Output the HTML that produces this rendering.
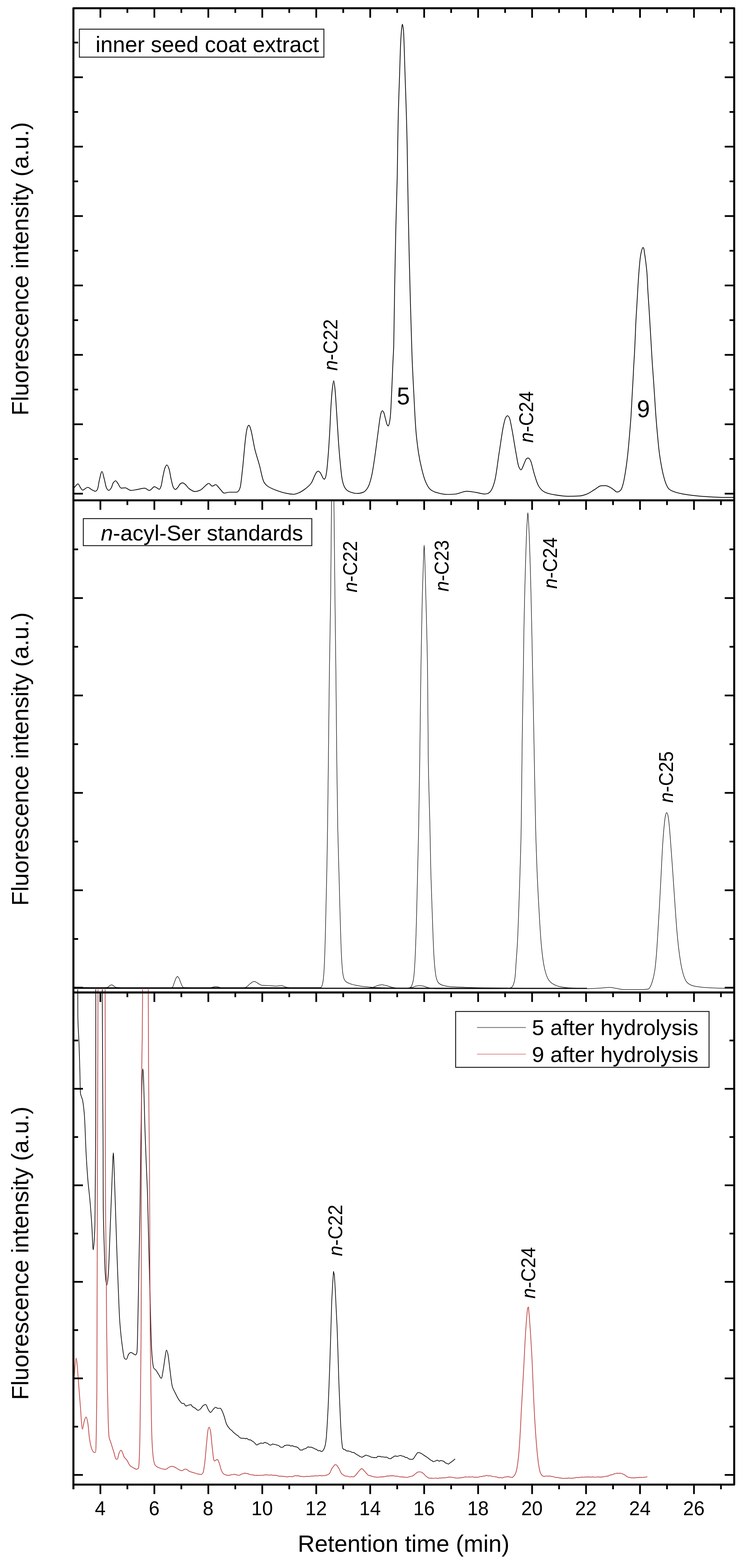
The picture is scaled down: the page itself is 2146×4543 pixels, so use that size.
<!DOCTYPE html>
<html lang="en">
<head>
<meta charset="utf-8">
<title>Fluorescence chromatograms</title>
<style>
html,body{margin:0;padding:0;background:#fff}
body{width:2146px;height:4543px;overflow:hidden}
</style>
</head>
<body>
<svg width="2146" height="4543" viewBox="0 0 2146 4543" font-family='"Liberation Sans", Arial, Helvetica, sans-serif' style="display:block">
<rect width="2146" height="4543" fill="#fff"/>
<defs>
<clipPath id="c1"><rect x="212.6" y="23.8" width="1913.7" height="1425.9"/></clipPath>
<clipPath id="c2"><rect x="212.6" y="1449.7" width="1913.7" height="1425.8"/></clipPath>
<clipPath id="c3"><rect x="212.6" y="2866.5" width="1913.7" height="1434.8"/></clipPath>
</defs>
<path d="M212.6 1414.0C213.1 1413.9 213.9 1413.3 214.8 1412.7C217.1 1411.2 222.7 1401.8 225.6 1401.8C228.1 1401.8 229.7 1408.0 232.0 1411.0C234.3 1414.1 236.3 1420.0 239.4 1420.0C243.1 1420.0 249.6 1412.0 254.2 1412.0C258.4 1412.0 262.1 1417.1 266.0 1419.0C269.5 1420.7 273.6 1423.5 276.3 1423.5C278.6 1423.5 280.6 1420.5 282.0 1418.0C284.7 1413.2 285.7 1398.9 288.0 1390.0C290.1 1381.7 292.9 1366.0 295.3 1366.0C297.6 1366.0 299.8 1380.3 302.0 1388.0C304.4 1396.5 306.1 1410.1 309.0 1415.0C310.6 1417.7 312.9 1420.9 315.0 1420.9C317.2 1420.9 320.1 1416.9 322.0 1414.0C324.4 1410.3 325.6 1402.4 328.0 1399.0C329.8 1396.4 332.7 1393.0 334.8 1393.0C337.0 1393.0 338.8 1397.2 341.0 1400.0C344.1 1403.8 347.2 1414.3 351.2 1414.3C354.4 1414.3 358.6 1413.4 362.7 1413.4C367.8 1413.4 373.4 1420.9 379.1 1420.9C384.9 1420.9 390.9 1419.3 397.2 1418.3C404.0 1417.2 412.4 1414.3 418.6 1414.3C423.9 1414.3 428.1 1420.9 432.7 1420.9C437.6 1420.9 443.0 1410.1 447.2 1410.1C450.1 1410.1 452.6 1412.7 455.0 1414.0C457.2 1415.2 459.6 1417.6 461.3 1417.6C463.2 1417.6 464.7 1413.3 466.0 1410.0C468.4 1403.8 469.9 1389.5 472.0 1380.0C473.9 1371.3 475.6 1360.6 478.0 1355.0C479.5 1351.6 481.5 1347.0 483.3 1347.0C485.2 1347.0 487.4 1352.7 489.0 1357.0C491.8 1364.3 493.6 1380.2 496.0 1390.0C498.0 1398.1 499.5 1407.5 502.0 1412.0C503.6 1414.8 505.9 1418.3 508.0 1418.3C510.2 1418.3 512.8 1414.4 515.0 1412.0C517.5 1409.2 519.4 1403.9 522.0 1402.0C524.0 1400.5 526.4 1398.9 528.7 1398.9C531.1 1398.9 533.4 1401.2 536.0 1403.0C539.7 1405.7 543.4 1412.7 548.0 1416.0C552.7 1419.4 559.2 1424.2 564.8 1424.2C569.9 1424.2 575.5 1422.0 580.0 1420.0C584.5 1418.0 588.4 1413.1 592.0 1410.0C594.9 1407.4 597.5 1404.3 600.0 1402.8C601.8 1401.8 603.1 1400.5 605.0 1400.5C607.8 1400.5 611.4 1408.7 614.8 1408.7C617.9 1408.7 621.8 1404.0 624.6 1404.0C627.0 1404.0 628.8 1407.4 631.0 1409.6C633.8 1412.4 636.9 1416.8 640.0 1420.0C643.0 1423.1 645.6 1428.7 649.3 1428.7C653.6 1428.7 659.9 1426.0 665.7 1426.0C672.1 1426.0 682.2 1426.0 686.1 1426.0C688.3 1426.0 689.6 1423.7 691.0 1422.0C692.7 1419.9 694.1 1417.0 695.3 1413.0C698.0 1404.0 699.6 1382.7 701.9 1363.6C705.1 1336.7 708.7 1286.2 711.7 1265.0C713.2 1254.3 714.1 1245.6 716.0 1240.0C717.1 1236.7 719.1 1232.2 720.6 1232.2C721.8 1232.2 723.0 1234.9 724.0 1237.0C725.6 1240.3 726.6 1245.6 728.2 1251.9C731.0 1263.2 734.2 1285.1 738.0 1301.2C741.7 1316.9 746.9 1331.6 751.2 1347.2C755.7 1363.3 759.1 1387.0 764.3 1396.5C767.1 1401.7 770.0 1404.7 774.2 1408.0C779.6 1412.4 788.7 1416.2 797.2 1419.5C807.0 1423.3 820.4 1427.7 830.0 1429.4C837.3 1430.7 843.7 1432.0 849.8 1432.0C855.2 1432.0 860.0 1429.8 865.0 1428.0C870.3 1426.1 875.2 1422.7 880.5 1419.0C887.1 1414.3 896.3 1407.0 901.1 1400.0C905.6 1393.5 908.4 1383.8 911.4 1378.0C913.5 1374.0 915.0 1370.0 917.0 1368.0C918.4 1366.6 920.0 1365.0 921.6 1365.0C923.3 1365.0 925.5 1367.3 927.0 1369.0C928.9 1371.1 930.5 1375.1 932.0 1378.0C933.4 1380.7 934.6 1384.3 936.0 1386.0C937.0 1387.1 938.1 1388.6 939.1 1388.6C940.1 1388.6 941.2 1386.6 942.0 1385.0C943.4 1382.2 944.3 1377.0 945.3 1371.1C947.2 1359.9 949.0 1337.7 950.4 1319.8C952.0 1300.2 953.2 1280.1 954.5 1258.1C956.0 1232.7 957.1 1200.1 958.6 1176.0C959.8 1156.9 961.1 1137.8 962.7 1124.6C963.7 1116.0 965.2 1103.0 966.4 1103.0C967.6 1103.0 968.8 1115.5 969.9 1124.6C971.8 1141.0 973.3 1171.7 975.0 1196.5C976.8 1223.0 978.4 1253.3 980.2 1278.7C981.8 1300.7 983.4 1320.7 985.3 1340.3C987.1 1358.2 988.7 1378.4 991.5 1391.7C993.4 1400.7 996.1 1409.0 999.7 1414.3C1002.6 1418.6 1007.1 1422.5 1012.0 1424.5C1017.9 1427.0 1027.7 1429.7 1034.6 1429.7C1040.5 1429.7 1046.1 1428.3 1051.0 1426.6C1056.4 1424.8 1061.9 1418.2 1065.4 1412.2C1069.8 1404.7 1072.8 1393.4 1075.7 1381.4C1079.7 1364.7 1083.0 1340.4 1086.0 1319.8C1089.0 1299.3 1091.7 1277.0 1094.2 1258.1C1096.4 1241.9 1098.3 1224.4 1100.3 1213.0C1101.6 1205.8 1102.4 1198.8 1104.0 1195.0C1104.9 1192.8 1106.3 1190.0 1107.5 1190.0C1108.6 1190.0 1110.0 1192.2 1111.0 1194.0C1112.9 1197.4 1114.3 1206.0 1116.0 1212.0C1117.7 1218.0 1119.2 1226.4 1121.0 1230.0C1122.0 1231.9 1123.3 1234.3 1124.2 1234.3C1125.3 1234.3 1126.2 1230.7 1127.0 1228.0C1128.4 1223.2 1129.6 1215.2 1130.5 1206.4C1131.9 1191.9 1132.7 1169.3 1133.8 1147.2C1135.2 1118.7 1136.8 1075.4 1138.0 1048.6C1138.9 1029.8 1139.7 1020.5 1140.3 1000.0C1141.4 961.5 1142.0 885.2 1143.0 828.7C1144.0 773.3 1145.1 718.2 1146.3 664.3C1147.5 612.1 1149.7 554.5 1150.5 510.0C1151.1 475.7 1151.3 449.5 1151.8 418.4C1152.3 386.1 1153.0 352.7 1153.8 319.8C1154.6 286.9 1156.0 254.1 1157.1 221.2C1158.2 188.3 1159.2 147.2 1160.4 122.6C1161.2 107.4 1162.0 94.5 1163.0 85.0C1163.6 79.0 1164.5 70.0 1165.3 70.0C1165.9 70.0 1166.7 75.1 1167.2 78.0C1167.8 81.5 1168.1 84.2 1168.6 89.7C1170.1 108.0 1171.8 180.6 1173.2 221.2C1174.4 256.4 1175.5 286.9 1176.5 319.8C1177.5 352.7 1178.5 386.1 1179.1 418.4C1179.7 449.5 1179.9 475.7 1180.5 510.0C1181.2 554.5 1182.3 612.1 1183.4 664.3C1184.5 718.2 1185.9 775.5 1187.3 828.7C1188.6 878.9 1190.3 934.9 1191.5 975.0C1192.4 1003.4 1192.9 1022.3 1193.9 1048.6C1195.1 1079.0 1197.1 1114.3 1198.8 1147.2C1200.5 1180.1 1202.1 1216.4 1204.4 1245.8C1206.3 1269.9 1209.0 1291.3 1212.0 1311.5C1214.7 1329.1 1218.3 1346.2 1221.9 1360.8C1224.9 1372.9 1227.7 1384.0 1231.7 1393.7C1235.2 1402.2 1239.5 1411.7 1244.9 1416.7C1249.6 1421.1 1256.0 1424.5 1263.0 1426.6C1272.0 1429.3 1285.8 1432.5 1295.8 1432.5C1304.1 1432.5 1310.5 1432.1 1318.8 1431.5C1328.8 1430.8 1341.3 1423.3 1351.7 1423.3C1360.9 1423.3 1369.4 1425.3 1378.0 1426.6C1386.4 1427.9 1396.4 1431.3 1402.6 1431.3C1406.4 1431.3 1409.2 1430.7 1412.0 1430.0C1414.6 1429.4 1416.7 1427.6 1419.0 1425.4C1423.5 1421.0 1428.8 1408.1 1432.2 1395.8C1437.7 1376.2 1440.9 1341.0 1445.3 1313.6C1449.7 1286.2 1454.3 1249.6 1458.5 1231.5C1460.7 1221.9 1462.4 1212.9 1465.0 1209.0C1466.4 1206.9 1468.4 1204.5 1470.0 1204.5C1471.7 1204.5 1473.6 1207.5 1475.0 1210.0C1477.7 1215.0 1479.1 1226.6 1481.5 1238.0C1485.4 1256.6 1490.6 1292.7 1494.6 1313.6C1497.5 1328.8 1499.5 1345.7 1502.8 1353.1C1504.5 1356.8 1506.9 1361.3 1508.8 1361.3C1510.6 1361.3 1512.4 1356.1 1514.0 1353.0C1515.9 1349.2 1517.5 1343.9 1519.3 1339.9C1520.9 1336.4 1522.1 1332.0 1524.0 1330.0C1525.4 1328.5 1527.5 1326.8 1529.1 1326.8C1530.5 1326.8 1531.8 1328.0 1533.0 1329.0C1534.6 1330.4 1535.8 1333.2 1537.3 1336.6C1540.4 1343.6 1543.5 1360.8 1547.2 1372.8C1551.0 1384.9 1554.9 1400.2 1560.4 1409.0C1564.6 1415.8 1570.2 1422.1 1576.8 1425.4C1584.4 1429.2 1595.8 1431.9 1606.4 1433.6C1618.5 1435.6 1633.2 1437.9 1645.8 1437.9C1657.2 1437.9 1669.3 1437.5 1678.7 1436.9C1686.1 1436.4 1691.8 1434.3 1698.4 1432.0C1706.0 1429.4 1714.0 1423.1 1721.4 1418.8C1728.2 1414.8 1735.0 1407.4 1741.1 1407.3C1745.7 1407.2 1749.6 1407.2 1754.2 1407.2C1759.9 1407.2 1767.8 1412.5 1772.3 1415.2C1775.4 1417.1 1777.6 1419.2 1780.0 1421.0C1782.1 1422.6 1784.1 1425.5 1786.0 1425.5C1787.4 1425.5 1788.6 1425.4 1790.2 1425.2C1792.7 1424.9 1796.8 1421.4 1798.8 1418.4C1801.4 1414.6 1803.1 1407.6 1804.8 1401.3C1806.8 1393.7 1808.3 1384.9 1809.9 1375.7C1811.7 1365.2 1813.5 1352.9 1815.0 1341.5C1816.5 1330.1 1817.6 1319.9 1818.9 1307.4C1820.5 1292.1 1822.1 1273.2 1823.5 1256.1C1824.9 1239.0 1826.4 1222.0 1827.5 1204.9C1828.6 1187.8 1829.4 1170.8 1830.3 1153.7C1831.2 1136.6 1832.3 1118.8 1833.2 1102.5C1834.0 1087.7 1834.6 1073.4 1835.3 1060.0C1836.0 1048.1 1836.7 1038.3 1837.4 1026.1C1838.2 1011.8 1838.9 995.0 1839.6 979.5C1840.3 964.0 1840.7 948.4 1841.5 932.9C1842.3 917.4 1843.4 901.8 1844.3 886.3C1845.2 870.8 1846.1 855.3 1847.0 839.8C1847.9 824.3 1848.8 808.7 1850.0 793.2C1851.2 777.7 1852.6 759.0 1854.3 746.6C1855.5 738.1 1856.9 730.2 1858.5 725.0C1859.5 721.7 1860.9 717.1 1862.1 717.1C1863.1 717.1 1864.5 720.1 1865.0 722.0C1865.6 724.4 1865.7 727.6 1866.2 731.0C1866.8 735.5 1867.7 740.2 1868.6 746.6C1870.1 757.7 1872.7 777.6 1873.8 793.2C1874.9 808.7 1875.2 824.3 1876.1 839.8C1877.0 855.3 1878.2 870.8 1879.2 886.3C1880.2 901.8 1881.1 917.4 1882.0 932.9C1882.9 948.4 1883.9 964.0 1884.8 979.5C1885.7 995.0 1886.6 1011.8 1887.5 1026.1C1888.2 1038.3 1888.8 1048.1 1889.6 1060.0C1890.5 1073.4 1891.7 1087.7 1892.7 1102.5C1893.8 1118.8 1895.0 1136.6 1896.1 1153.7C1897.2 1170.8 1898.2 1187.8 1899.5 1204.9C1900.8 1222.0 1902.2 1239.0 1903.8 1256.1C1905.4 1273.2 1907.0 1292.1 1908.9 1307.4C1910.4 1319.9 1912.1 1330.2 1914.0 1341.5C1916.0 1352.9 1918.3 1365.2 1920.9 1375.7C1923.2 1384.9 1925.6 1394.1 1928.6 1401.3C1931.0 1407.1 1933.4 1412.9 1937.1 1416.5C1940.8 1420.2 1946.7 1422.7 1953.1 1425.0C1962.3 1428.3 1975.9 1431.2 1989.2 1433.2C2005.3 1435.6 2025.4 1437.6 2043.5 1438.7C2061.6 1439.8 2082.6 1441.2 2097.7 1441.2C2108.7 1441.2 2118.5 1441.2 2126.6 1441.2" fill="none" stroke="#0a0a0a" stroke-width="2.20" stroke-linejoin="round" stroke-linecap="butt" clip-path="url(#c1)"/>
<path d="M212.6 2860.5C255.3 2861.5 285.5 2861.5 300.0 2861.5C305.3 2861.5 308.8 2861.1 311.7 2860.5C313.9 2860.1 315.1 2857.7 317.0 2856.5C319.0 2855.3 321.3 2853.3 323.3 2853.3C325.3 2853.3 327.0 2855.4 329.0 2856.5C331.1 2857.7 332.5 2860.1 335.6 2860.5C344.6 2861.8 376.4 2862.5 400.0 2862.5C429.1 2862.5 488.8 2862.2 497.8 2861.5C501.5 2861.2 502.9 2851.4 505.0 2846.5C506.9 2842.1 508.2 2836.6 510.0 2833.7C511.2 2831.6 512.6 2828.9 513.9 2828.9C515.2 2828.9 516.7 2831.6 518.0 2833.7C520.1 2836.9 521.7 2843.9 524.0 2848.5C526.2 2852.9 527.7 2860.7 531.5 2861.0C539.6 2861.7 575.1 2861.8 600.0 2862.0C630.1 2862.2 666.7 2862.5 700.0 2862.5C733.3 2862.5 766.7 2862.5 800.0 2862.5C833.3 2862.5 878.9 2862.8 900.0 2862.8C910.3 2862.8 918.9 2862.8 924.0 2862.8C926.6 2862.8 928.7 2861.8 930.1 2860.7C931.9 2859.3 933.2 2854.4 934.2 2850.4C935.5 2844.9 936.3 2838.5 937.1 2830.1C938.5 2815.6 939.5 2792.7 940.4 2769.1C941.7 2735.6 942.7 2687.4 943.7 2646.5C944.7 2605.5 945.7 2564.4 946.5 2523.3C947.3 2482.2 947.9 2446.0 948.6 2400.0C949.5 2340.9 950.3 2267.5 951.1 2196.5C952.0 2118.3 952.8 2030.0 953.9 1950.0C954.9 1874.0 956.7 1805.6 957.6 1727.6C958.6 1640.7 959.3 1504.9 960.1 1452.0C960.5 1429.0 960.8 1410.5 961.2 1400.0" fill="none" stroke="#0a0a0a" stroke-width="1.50" stroke-linejoin="round" stroke-linecap="butt" clip-path="url(#c2)"/>
<path d="M966.2 1400.0C966.5 1410.5 966.8 1429.0 967.1 1452.0C967.9 1504.9 969.0 1640.7 970.0 1727.6C970.9 1805.6 971.9 1874.0 972.8 1950.0C973.7 2030.0 974.4 2118.3 975.3 2196.5C976.2 2267.5 977.0 2340.9 978.2 2400.0C979.1 2446.0 980.4 2482.2 981.5 2523.3C982.6 2564.4 983.6 2605.5 984.8 2646.5C986.0 2687.4 987.4 2740.0 988.9 2769.1C989.8 2785.9 990.6 2798.6 991.7 2809.7C992.5 2817.6 993.2 2824.3 994.6 2830.1C995.7 2834.7 997.5 2839.2 1000.0 2842.3C1002.8 2845.7 1009.0 2848.5 1014.3 2850.4C1020.3 2852.6 1028.0 2854.1 1034.9 2855.4C1041.7 2856.7 1048.2 2857.8 1055.4 2858.6C1063.2 2859.5 1069.9 2860.2 1080.0 2860.7C1097.0 2861.5 1122.6 2862.3 1150.0 2862.5C1190.1 2862.8 1246.5 2863.0 1300.0 2863.0C1361.8 2863.0 1433.3 2863.0 1500.0 2863.0C1566.7 2863.0 1633.3 2863.0 1700.0 2863.0" fill="none" stroke="#0a0a0a" stroke-width="1.50" stroke-linejoin="round" stroke-linecap="butt" clip-path="url(#c2)"/>
<path d="M212.6 2862.0C267.8 2862.0 330.5 2862.0 400.0 2862.0C487.9 2862.0 671.3 2863.5 700.0 2863.5C705.8 2863.5 708.2 2862.0 712.0 2860.5C716.2 2858.8 719.9 2853.3 724.0 2850.5C727.9 2847.8 732.1 2843.5 736.2 2843.5C740.1 2843.5 744.3 2847.6 748.0 2849.5C751.3 2851.2 753.6 2854.1 757.5 2854.5C763.1 2855.1 772.7 2855.1 780.0 2855.5C786.9 2855.9 793.8 2857.0 800.0 2857.0C805.4 2857.0 810.1 2855.5 815.0 2855.5C820.1 2855.5 824.1 2859.6 830.0 2860.5C838.1 2861.8 846.9 2862.7 860.0 2863.0C888.2 2863.6 952.5 2864.0 1000.0 2864.0C1049.1 2864.0 1121.0 2864.0 1150.0 2864.0C1162.7 2864.0 1171.8 2863.8 1178.7 2863.5C1182.9 2863.3 1186.7 2862.1 1189.0 2860.7C1191.4 2859.2 1193.0 2854.5 1194.3 2850.4C1196.1 2845.0 1197.4 2838.5 1198.4 2830.1C1200.2 2815.6 1201.4 2792.7 1202.5 2769.1C1204.1 2735.6 1205.5 2687.4 1206.6 2646.5C1207.7 2605.5 1208.5 2564.4 1209.5 2523.3C1210.5 2482.2 1211.5 2446.0 1212.4 2400.0C1213.6 2340.9 1214.7 2267.5 1215.7 2196.5C1216.8 2118.3 1217.7 2030.0 1218.9 1950.0C1220.1 1874.0 1221.5 1787.8 1223.0 1727.6C1224.1 1685.7 1225.4 1646.9 1226.5 1620.0C1227.2 1603.4 1227.8 1578.9 1228.4 1578.9C1229.0 1578.9 1229.7 1603.4 1230.3 1620.0C1231.3 1646.9 1232.2 1685.7 1233.3 1727.6C1234.8 1787.8 1237.4 1874.0 1238.3 1950.0C1239.3 2030.0 1239.3 2118.3 1240.3 2196.5C1241.2 2267.5 1243.9 2340.9 1245.2 2400.0C1246.2 2446.0 1246.7 2482.2 1247.7 2523.3C1248.7 2564.4 1250.3 2605.5 1251.8 2646.5C1253.3 2687.4 1254.9 2740.0 1256.7 2769.1C1257.7 2785.9 1258.8 2798.6 1260.0 2809.7C1260.9 2817.6 1261.5 2823.8 1262.9 2830.1C1264.1 2835.9 1266.2 2842.5 1269.0 2846.3C1271.6 2849.8 1276.6 2852.9 1281.4 2854.5C1287.1 2856.4 1293.8 2857.9 1302.0 2858.6C1314.4 2859.7 1331.3 2860.2 1350.0 2860.7C1377.0 2861.5 1409.8 2862.2 1450.0 2862.5C1513.5 2863.0 1597.9 2863.5 1700.0 2863.5" fill="none" stroke="#0a0a0a" stroke-width="1.50" stroke-linejoin="round" stroke-linecap="butt" clip-path="url(#c2)"/>
<path d="M212.6 2863.0C428.4 2863.0 563.3 2863.0 600.0 2863.0C607.3 2863.0 610.5 2861.3 615.0 2860.5C618.7 2859.8 621.7 2858.5 625.0 2858.5C628.3 2858.5 631.3 2859.8 635.0 2860.5C639.5 2861.3 642.7 2862.9 650.0 2863.0C687.8 2863.4 1016.7 2863.5 1060.0 2863.5C1069.6 2863.5 1073.9 2861.9 1080.0 2860.5C1085.4 2859.3 1090.3 2856.0 1095.0 2855.0C1099.1 2854.2 1102.8 2853.3 1106.7 2853.3C1110.5 2853.3 1113.8 2854.6 1118.0 2855.5C1123.6 2856.8 1130.8 2859.7 1137.6 2861.0C1144.8 2862.3 1151.7 2864.0 1160.0 2864.0C1170.3 2864.0 1187.2 2862.1 1195.0 2860.5C1199.3 2859.6 1201.6 2857.6 1205.0 2857.0C1208.5 2856.4 1212.2 2855.8 1215.7 2855.8C1219.2 2855.8 1222.3 2856.4 1226.0 2857.0C1230.4 2857.7 1234.9 2860.4 1240.0 2861.5C1246.0 2862.8 1250.9 2864.5 1260.0 2864.5C1283.9 2864.5 1361.9 2864.5 1400.0 2864.5C1426.8 2864.5 1456.3 2864.4 1469.1 2864.0C1474.6 2863.8 1478.7 2862.4 1481.5 2860.7C1484.2 2859.1 1486.2 2854.5 1487.6 2850.4C1489.4 2845.0 1490.8 2838.0 1491.7 2830.1C1493.0 2819.0 1493.6 2804.3 1494.6 2789.4C1495.9 2771.2 1497.6 2750.2 1498.7 2728.4C1500.0 2703.2 1500.9 2676.5 1502.0 2646.5C1503.4 2609.7 1504.9 2564.4 1506.1 2523.3C1507.3 2482.2 1508.6 2447.9 1509.4 2400.0C1510.6 2331.3 1511.2 2228.6 1512.3 2146.5C1513.4 2068.9 1515.1 1981.4 1516.0 1920.0C1516.6 1877.2 1516.9 1847.6 1517.6 1809.8C1518.3 1769.9 1519.4 1727.6 1520.5 1686.5C1521.6 1645.4 1522.9 1595.4 1524.2 1563.3C1525.0 1542.2 1525.9 1524.2 1526.8 1510.0C1527.4 1500.3 1528.1 1485.2 1528.7 1485.2C1529.3 1485.2 1530.0 1500.3 1530.6 1510.0C1531.5 1524.2 1532.4 1542.2 1533.2 1563.3C1534.5 1595.4 1535.8 1645.4 1536.9 1686.5C1538.0 1727.6 1538.9 1769.9 1539.8 1809.8C1540.6 1847.6 1541.2 1877.2 1542.0 1920.0C1543.2 1981.4 1544.9 2068.9 1546.4 2146.5C1548.0 2228.6 1549.5 2331.3 1551.3 2400.0C1552.5 2447.9 1553.8 2482.2 1555.4 2523.3C1557.0 2564.4 1559.5 2609.7 1561.6 2646.5C1563.3 2676.5 1564.8 2703.2 1566.9 2728.4C1568.8 2750.2 1571.3 2773.2 1573.9 2789.4C1575.7 2800.6 1577.6 2809.4 1580.1 2817.9C1582.3 2825.3 1584.9 2832.8 1588.3 2838.2C1591.4 2843.0 1595.7 2847.4 1600.6 2850.4C1606.1 2853.8 1613.9 2857.1 1621.2 2858.6C1628.9 2860.2 1636.1 2861.5 1645.8 2861.9C1660.1 2862.5 1678.4 2862.9 1700.0 2862.9" fill="none" stroke="#0a0a0a" stroke-width="1.50" stroke-linejoin="round" stroke-linecap="butt" clip-path="url(#c2)"/>
<path d="M212.6 2864.0C407.4 2864.0 603.2 2864.0 800.0 2864.0C998.9 2864.0 1235.9 2864.5 1400.0 2864.5C1516.0 2864.5 1648.1 2864.5 1700.0 2864.4C1719.9 2864.4 1732.0 2863.2 1744.0 2862.5C1752.5 2862.0 1759.0 2860.7 1766.0 2860.7C1772.4 2860.7 1777.7 2862.6 1784.3 2863.6C1792.1 2864.8 1800.6 2867.3 1809.9 2867.3C1821.0 2867.3 1834.9 2867.3 1846.6 2867.3C1857.4 2867.3 1872.7 2866.6 1877.7 2865.5C1880.3 2864.9 1881.5 2861.7 1883.2 2858.9C1885.9 2854.4 1888.6 2845.9 1890.6 2838.7C1892.8 2830.8 1894.6 2822.8 1896.1 2813.1C1898.0 2800.5 1899.4 2785.2 1900.8 2769.1C1902.5 2749.4 1903.8 2725.7 1905.2 2703.1C1906.7 2679.3 1908.2 2655.6 1909.6 2629.8C1911.2 2601.0 1912.8 2568.7 1914.4 2538.2C1916.0 2507.7 1917.5 2473.1 1919.2 2446.6C1920.5 2426.0 1922.0 2407.0 1923.6 2391.6C1924.8 2380.3 1925.8 2368.3 1927.5 2362.0C1928.4 2358.6 1929.8 2354.2 1930.9 2354.2C1932.0 2354.2 1933.4 2358.6 1934.3 2362.0C1936.0 2368.3 1937.0 2380.3 1938.2 2391.6C1939.8 2407.0 1941.0 2426.0 1942.6 2446.6C1944.6 2473.1 1947.1 2507.7 1949.2 2538.2C1951.3 2568.7 1953.3 2601.0 1955.4 2629.8C1957.2 2655.6 1958.9 2680.5 1960.9 2703.1C1962.7 2722.7 1964.6 2741.3 1966.8 2758.1C1968.7 2772.6 1970.6 2786.1 1973.0 2798.4C1975.1 2809.0 1977.4 2819.3 1980.4 2827.7C1982.8 2834.6 1985.6 2841.7 1989.5 2846.0C1993.1 2850.0 1998.5 2853.3 2004.2 2855.2C2011.2 2857.5 2020.5 2859.0 2029.8 2860.0C2040.9 2861.2 2054.3 2862.0 2066.5 2862.5C2078.7 2863.0 2092.3 2863.6 2103.1 2863.6C2111.8 2863.6 2119.6 2863.6 2126.6 2863.6" fill="none" stroke="#0a0a0a" stroke-width="1.50" stroke-linejoin="round" stroke-linecap="butt" clip-path="url(#c2)"/>
<line x1="212.60" y1="2862.80" x2="930.00" y2="2862.80" stroke="#0a0a0a" stroke-width="4.40" stroke-linecap="butt"/>
<line x1="930.00" y1="2863.20" x2="1470.00" y2="2863.20" stroke="#0a0a0a" stroke-width="3.00" stroke-linecap="butt"/>
<line x1="1470.00" y1="2863.20" x2="1700.00" y2="2863.20" stroke="#0a0a0a" stroke-width="1.80" stroke-linecap="butt"/>
<path d="M225.2 2860.0C225.2 2892.1 225.3 2919.1 225.4 2940.0C225.5 2953.9 226.0 2963.8 226.4 2975.0C226.8 2985.4 227.5 2995.1 228.0 3005.0C228.5 3014.8 228.8 3022.7 229.2 3034.3C229.8 3051.6 230.6 3078.2 231.2 3100.1C231.8 3122.0 231.9 3150.1 232.9 3165.8C233.5 3175.3 237.8 3180.0 239.4 3188.8C241.5 3200.6 243.1 3214.3 244.4 3231.5C246.5 3258.9 247.5 3307.2 249.3 3340.0C250.8 3367.4 252.3 3391.4 254.2 3415.7C256.0 3438.4 258.9 3459.6 260.8 3481.5C262.7 3503.4 264.2 3524.6 265.7 3547.2C267.3 3571.1 268.5 3621.2 270.0 3621.2C271.5 3621.2 274.4 3573.6 274.9 3547.2C275.4 3516.8 275.5 3481.5 275.8 3448.6C276.1 3415.7 276.4 3381.7 276.6 3350.0C276.8 3320.4 277.1 3301.5 277.2 3264.0C277.3 3182.7 277.4 3044.3 277.4 2860.0" fill="none" stroke="#0a0a0a" stroke-width="2.00" stroke-linejoin="round" stroke-linecap="butt" clip-path="url(#c3)"/>
<path d="M296.1 2860.0C296.1 2869.3 296.2 2883.1 296.3 2900.0C296.5 2931.5 296.8 2991.8 297.0 3040.0C297.3 3091.5 297.5 3149.5 297.8 3200.0C298.1 3245.5 298.5 3285.0 298.6 3330.0C298.7 3378.5 298.7 3432.8 298.9 3481.5C299.1 3526.8 300.7 3574.4 301.9 3612.9C302.8 3643.4 303.6 3675.4 305.2 3695.1C306.1 3706.6 308.0 3723.0 309.4 3723.0C310.8 3723.0 312.4 3707.1 313.4 3695.1C315.5 3670.8 316.7 3619.6 318.3 3580.0C320.0 3537.7 321.8 3487.1 323.3 3448.6C324.5 3418.1 325.5 3385.7 326.5 3366.4C327.1 3355.4 327.6 3340.0 328.2 3340.0C329.2 3340.0 330.5 3388.8 331.5 3415.7C332.7 3446.4 333.7 3481.4 334.8 3514.3C335.9 3547.2 336.8 3577.7 338.0 3612.9C339.4 3653.5 341.5 3706.8 343.0 3744.4C344.2 3772.9 345.0 3799.1 346.3 3820.0C347.2 3835.1 348.2 3846.0 349.5 3859.4C350.8 3873.4 352.5 3888.8 354.5 3902.2C356.3 3914.3 358.1 3934.5 361.1 3936.7C362.3 3937.6 364.6 3938.3 366.0 3938.3C368.5 3938.3 370.0 3926.6 372.6 3923.5C374.4 3921.3 376.9 3918.6 379.1 3918.6C381.2 3918.6 383.5 3920.7 385.7 3921.9C387.9 3923.1 390.6 3925.8 392.3 3925.8C394.0 3925.8 396.0 3922.0 396.5 3918.6C397.9 3908.9 398.1 3877.5 398.8 3850.0C400.0 3806.5 401.0 3735.2 402.1 3678.7C403.2 3623.3 404.6 3567.3 405.4 3514.3C406.1 3464.7 406.5 3414.3 407.1 3370.0C407.6 3332.1 408.1 3299.0 408.7 3264.4C409.2 3231.0 409.6 3195.7 410.4 3165.8C411.1 3140.8 412.5 3096.8 413.6 3096.8C414.2 3096.8 414.9 3108.6 415.3 3116.5C416.0 3129.0 416.3 3146.7 416.9 3165.8C417.7 3192.8 418.6 3231.0 419.6 3264.4C420.7 3299.0 422.2 3337.5 423.5 3370.0C424.6 3398.1 425.8 3419.2 426.8 3448.6C428.0 3486.6 429.0 3536.2 430.1 3580.0C431.2 3623.8 432.4 3670.9 433.4 3711.5C434.3 3746.7 435.3 3783.0 436.0 3810.1C436.5 3829.4 436.8 3844.1 437.3 3860.0C437.7 3874.6 438.1 3888.4 438.8 3902.2C439.4 3915.6 440.4 3930.6 441.6 3941.6C442.5 3949.8 443.2 3958.5 444.9 3963.0C446.0 3965.9 449.2 3967.0 451.4 3969.6C454.2 3973.0 457.0 3978.6 459.7 3982.7C462.2 3986.5 465.1 3993.5 466.9 3993.5C469.4 3993.5 471.1 3977.0 472.8 3967.9C474.7 3957.7 476.0 3945.0 477.7 3935.0C479.1 3926.5 480.3 3911.4 482.0 3911.4C483.1 3911.4 484.9 3917.4 486.0 3921.9C488.0 3929.9 489.3 3945.7 490.9 3958.0C492.6 3970.9 494.2 3986.7 495.8 3997.5C496.9 4005.1 497.5 4010.9 499.1 4017.2C500.7 4023.5 504.2 4029.1 507.3 4035.3C510.7 4042.2 514.7 4051.3 518.8 4056.6C521.9 4060.7 526.1 4066.5 528.7 4066.5C530.0 4066.5 530.8 4065.9 532.0 4065.9C534.0 4065.9 536.1 4073.7 538.5 4073.7C540.5 4073.7 542.8 4072.0 545.1 4071.4C547.7 4070.7 551.5 4069.8 553.3 4069.8C554.8 4069.8 555.2 4073.2 556.6 4074.7C558.4 4076.6 562.0 4077.9 564.8 4079.7C567.8 4081.7 571.1 4086.2 574.0 4086.2C576.6 4086.2 579.1 4083.3 581.3 4081.3C583.8 4079.1 585.6 4074.4 588.2 4072.6C590.4 4071.1 593.6 4069.3 595.6 4069.3C598.4 4069.3 600.1 4078.8 602.6 4082.8C604.8 4086.3 607.2 4092.3 609.6 4092.3C612.0 4092.3 614.5 4086.6 617.0 4084.1C619.4 4081.7 621.8 4077.5 624.4 4077.5C626.7 4077.5 629.1 4080.8 631.4 4080.8C633.5 4080.8 635.7 4080.0 637.5 4080.0C639.9 4080.0 641.9 4085.5 643.7 4089.0C646.0 4093.4 647.9 4099.6 649.8 4105.4C652.0 4111.8 653.4 4120.3 656.0 4126.0C658.1 4130.7 661.0 4134.9 664.2 4138.3L666.8 4141.3L669.4 4143.2L672.0 4145.3L674.6 4148.4L677.2 4150.8L679.8 4153.1L682.4 4155.2L685.0 4157.3L687.6 4158.6L690.2 4160.8L692.8 4163.7L695.4 4165.7L698.0 4167.1L700.6 4167.0L703.2 4167.3L705.8 4166.9L708.4 4167.7L711.0 4168.8L713.6 4167.3L716.2 4168.2L718.8 4170.4L721.4 4171.8L724.0 4171.6L726.6 4172.3L729.2 4174.4L731.8 4176.3L734.4 4177.6L737.0 4180.1L739.6 4183.2L742.2 4186.2L744.8 4186.5L747.4 4183.9L750.0 4183.7L752.6 4182.1L755.2 4180.9L757.8 4181.3L760.4 4181.6L763.0 4181.8L765.6 4179.6L768.2 4179.1L770.8 4180.8L773.4 4181.0L776.0 4182.6L778.6 4185.1L781.2 4186.4L783.8 4186.9L786.4 4185.8L789.0 4183.8L791.6 4184.2L794.2 4184.9L796.8 4185.1L799.4 4185.9L802.0 4187.0L804.6 4187.4L807.2 4188.1L809.8 4190.9L812.4 4192.6L815.0 4193.4L817.6 4193.3L820.2 4192.4L822.8 4189.4L825.4 4187.7L828.0 4188.0L830.6 4186.5L833.2 4187.4L835.8 4187.0L838.4 4187.2L841.0 4189.5L843.6 4189.5L846.2 4188.5L848.8 4189.8L851.4 4190.5L854.0 4191.7L856.6 4191.5L859.2 4192.3L861.8 4193.6L864.4 4195.7L867.0 4198.8L869.6 4201.6L872.2 4200.9L874.8 4201.7L877.4 4200.0L880.0 4198.0L882.6 4197.7L885.2 4197.1L887.8 4195.2L890.4 4193.0L893.0 4191.8L895.6 4193.0L898.2 4193.1L900.8 4192.8L903.4 4193.6L906.0 4195.0L908.6 4195.7L911.2 4197.5L913.8 4198.7L916.4 4199.0L919.0 4201.4L921.6 4203.6L924.2 4203.0L926.8 4203.1L929.4 4204.9L932.0 4205.7L934.6 4203.7L937.2 4200.1L939.8 4194.8L942.4 4185.4L945.0 4166.7L947.6 4127.6L950.2 4079.7L952.8 4017.0L955.4 3945.0L958.0 3862.1L960.6 3773.3L963.2 3723.3L965.8 3684.0L968.4 3694.0L971.0 3737.5L973.6 3792.5L976.2 3843.6L978.8 3920.0L981.4 4004.8L984.0 4069.1L986.6 4128.5L989.2 4171.4L991.8 4194.3L994.4 4199.0L997.0 4199.5L999.6 4200.4L1002.2 4202.4L1004.8 4204.2L1007.4 4203.7L1010.0 4204.1L1012.6 4205.2L1015.2 4205.5L1017.8 4207.1L1020.4 4208.4L1023.0 4208.1L1025.6 4208.8L1028.2 4210.9L1030.8 4212.7L1033.4 4214.4L1036.0 4215.9L1038.6 4217.0L1041.2 4219.4L1043.8 4220.4L1046.4 4221.4L1049.0 4222.2L1051.6 4220.4L1054.2 4219.0L1056.8 4217.7L1059.4 4215.7L1062.0 4216.6L1064.6 4217.4L1067.2 4218.3L1069.8 4219.1L1072.4 4220.4L1075.0 4221.7L1077.6 4222.6L1080.2 4222.5L1082.8 4223.5L1085.4 4222.8L1088.0 4223.3L1090.6 4223.4L1093.2 4219.8L1095.8 4219.3L1098.4 4220.2L1101.0 4219.3L1103.6 4221.1L1106.2 4221.3L1108.8 4220.9L1111.4 4221.6L1114.0 4222.1L1116.6 4222.1L1119.2 4221.6L1121.8 4222.8L1124.4 4224.7L1127.0 4225.7L1129.6 4226.2L1132.2 4226.0L1134.8 4223.9L1137.4 4222.2L1140.0 4220.6L1142.6 4218.7L1145.2 4218.6L1147.8 4218.8L1150.4 4219.7L1153.0 4219.1L1155.6 4217.9L1158.2 4217.1L1160.8 4217.0L1163.4 4218.4L1166.0 4219.1L1168.6 4219.2L1171.2 4220.4L1173.8 4222.8L1176.4 4222.6L1179.0 4223.3L1181.6 4225.0L1184.2 4226.9L1186.8 4228.0L1189.4 4228.1L1192.0 4228.2L1194.6 4228.0L1197.2 4226.6L1199.8 4222.7L1202.4 4218.3L1205.0 4214.9L1207.6 4210.8L1210.2 4208.4L1212.8 4208.8L1215.4 4208.7L1218.0 4210.5L1220.6 4211.1L1223.2 4213.3L1225.8 4215.1L1228.4 4216.6L1231.0 4218.6L1233.6 4220.0L1236.2 4221.8L1238.8 4223.5L1241.4 4225.8L1244.0 4228.1L1246.6 4229.7L1249.2 4231.5L1251.8 4232.1L1254.4 4235.0L1257.0 4234.7L1259.6 4233.4L1262.2 4232.6L1264.8 4231.1L1267.4 4230.8L1270.0 4232.8L1272.6 4233.6L1275.2 4231.9L1277.8 4232.0L1280.4 4232.4L1283.0 4233.2L1285.6 4234.0L1288.2 4237.0L1290.8 4239.1L1293.4 4239.4L1296.0 4240.7L1298.6 4242.1L1301.2 4240.3L1303.8 4237.9L1306.4 4236.4L1309.0 4234.0L1311.6 4232.7L1314.2 4230.6L1316.8 4227.6L1318.0 4228.3" fill="none" stroke="#0a0a0a" stroke-width="2.00" stroke-linejoin="round" stroke-linecap="butt" clip-path="url(#c3)"/>
<path d="M213.1 4030.4C213.7 4010.4 214.8 3991.9 216.0 3975.0C217.1 3960.6 219.0 3935.0 220.4 3935.0C221.3 3935.0 222.2 3943.9 223.0 3950.0C224.3 3960.0 225.0 3975.0 226.3 3990.9C228.1 4013.9 230.7 4050.0 232.9 4076.4C234.8 4099.3 236.4 4140.5 238.8 4140.5C240.3 4140.5 242.3 4122.1 244.4 4115.8C245.8 4111.6 247.8 4105.3 249.3 4105.3C251.1 4105.3 252.9 4115.4 254.2 4122.4C256.3 4133.7 257.1 4154.9 259.2 4168.4C260.9 4179.3 263.0 4191.3 265.7 4198.0C267.4 4202.2 270.1 4207.8 272.3 4207.8C273.6 4207.8 275.9 4207.8 276.3 4207.8C278.0 4207.8 278.4 4172.0 278.9 4148.7C279.7 4114.0 280.3 4063.6 280.5 4017.2C280.8 3964.9 280.8 3906.1 281.0 3850.0C281.2 3793.2 281.3 3743.7 281.5 3678.7C281.7 3591.5 281.9 3457.2 282.2 3370.0C282.4 3305.0 282.6 3255.2 282.8 3198.7C283.0 3143.3 283.3 3088.0 283.4 3034.0C283.5 2981.8 283.6 2905.3 283.7 2880.0C283.7 2870.9 283.8 2863.5 283.8 2860.0" fill="none" stroke="#ff5a5a" stroke-width="4.00" stroke-linejoin="round" stroke-linecap="butt" clip-path="url(#c3)" stroke-opacity="0.16"/>
<path d="M213.1 4030.4C213.7 4010.4 214.8 3991.9 216.0 3975.0C217.1 3960.6 219.0 3935.0 220.4 3935.0C221.3 3935.0 222.2 3943.9 223.0 3950.0C224.3 3960.0 225.0 3975.0 226.3 3990.9C228.1 4013.9 230.7 4050.0 232.9 4076.4C234.8 4099.3 236.4 4140.5 238.8 4140.5C240.3 4140.5 242.3 4122.1 244.4 4115.8C245.8 4111.6 247.8 4105.3 249.3 4105.3C251.1 4105.3 252.9 4115.4 254.2 4122.4C256.3 4133.7 257.1 4154.9 259.2 4168.4C260.9 4179.3 263.0 4191.3 265.7 4198.0C267.4 4202.2 270.1 4207.8 272.3 4207.8C273.6 4207.8 275.9 4207.8 276.3 4207.8C278.0 4207.8 278.4 4172.0 278.9 4148.7C279.7 4114.0 280.3 4063.6 280.5 4017.2C280.8 3964.9 280.8 3906.1 281.0 3850.0C281.2 3793.2 281.3 3743.7 281.5 3678.7C281.7 3591.5 281.9 3457.2 282.2 3370.0C282.4 3305.0 282.6 3255.2 282.8 3198.7C283.0 3143.3 283.3 3088.0 283.4 3034.0C283.5 2981.8 283.6 2905.3 283.7 2880.0C283.7 2870.9 283.8 2863.5 283.8 2860.0" fill="none" stroke="#b03636" stroke-width="1.70" stroke-linejoin="round" stroke-linecap="butt" clip-path="url(#c3)"/>
<path d="M304.3 2860.0C304.4 2860.8 304.5 2865.1 304.5 2870.0C304.8 2904.7 304.9 3256.9 305.2 3370.0C305.4 3430.7 305.5 3464.7 305.8 3514.3C306.1 3567.3 307.4 3626.0 307.8 3678.7C308.1 3727.6 308.2 3782.3 308.5 3820.0C308.7 3845.7 309.1 3860.3 309.4 3885.7C309.9 3921.7 310.4 3976.6 311.1 4017.2C311.7 4052.4 312.5 4089.4 313.4 4115.8C314.0 4133.8 314.4 4150.0 315.7 4161.8C316.5 4169.7 319.5 4174.5 321.6 4181.5C324.1 4189.6 327.2 4199.7 329.8 4207.8C332.1 4214.9 333.9 4227.6 336.4 4227.6C337.4 4227.6 338.8 4227.6 339.7 4227.6C341.7 4227.6 342.7 4215.6 344.6 4211.1C346.1 4207.5 348.4 4201.9 350.2 4201.9C351.7 4201.9 353.2 4205.4 354.5 4207.8C356.3 4211.1 357.3 4217.1 359.4 4221.0C361.4 4224.7 364.9 4227.0 367.6 4230.8C370.9 4235.4 373.8 4243.9 377.5 4247.3C380.4 4249.9 384.1 4251.5 387.3 4253.2C390.1 4254.7 393.2 4257.1 395.6 4257.1C397.7 4257.1 400.5 4254.6 401.2 4252.2C402.8 4246.9 403.2 4228.6 403.8 4214.4C404.5 4195.6 404.9 4174.1 405.4 4148.7C406.1 4112.8 406.6 4063.6 407.1 4017.2C407.7 3964.9 408.4 3906.1 408.7 3850.0C409.0 3793.2 409.1 3748.7 409.2 3678.7C409.4 3561.5 409.4 3294.0 409.7 3198.7C409.8 3155.5 410.1 3132.9 410.4 3100.0C410.7 3067.1 411.6 3036.6 412.0 3001.5C412.4 2960.9 412.8 2887.1 413.0 2870.0C413.0 2865.3 413.1 2861.4 413.1 2860.0" fill="none" stroke="#ff5a5a" stroke-width="4.00" stroke-linejoin="round" stroke-linecap="butt" clip-path="url(#c3)" stroke-opacity="0.16"/>
<path d="M304.3 2860.0C304.4 2860.8 304.5 2865.1 304.5 2870.0C304.8 2904.7 304.9 3256.9 305.2 3370.0C305.4 3430.7 305.5 3464.7 305.8 3514.3C306.1 3567.3 307.4 3626.0 307.8 3678.7C308.1 3727.6 308.2 3782.3 308.5 3820.0C308.7 3845.7 309.1 3860.3 309.4 3885.7C309.9 3921.7 310.4 3976.6 311.1 4017.2C311.7 4052.4 312.5 4089.4 313.4 4115.8C314.0 4133.8 314.4 4150.0 315.7 4161.8C316.5 4169.7 319.5 4174.5 321.6 4181.5C324.1 4189.6 327.2 4199.7 329.8 4207.8C332.1 4214.9 333.9 4227.6 336.4 4227.6C337.4 4227.6 338.8 4227.6 339.7 4227.6C341.7 4227.6 342.7 4215.6 344.6 4211.1C346.1 4207.5 348.4 4201.9 350.2 4201.9C351.7 4201.9 353.2 4205.4 354.5 4207.8C356.3 4211.1 357.3 4217.1 359.4 4221.0C361.4 4224.7 364.9 4227.0 367.6 4230.8C370.9 4235.4 373.8 4243.9 377.5 4247.3C380.4 4249.9 384.1 4251.5 387.3 4253.2C390.1 4254.7 393.2 4257.1 395.6 4257.1C397.7 4257.1 400.5 4254.6 401.2 4252.2C402.8 4246.9 403.2 4228.6 403.8 4214.4C404.5 4195.6 404.9 4174.1 405.4 4148.7C406.1 4112.8 406.6 4063.6 407.1 4017.2C407.7 3964.9 408.4 3906.1 408.7 3850.0C409.0 3793.2 409.1 3748.7 409.2 3678.7C409.4 3561.5 409.4 3294.0 409.7 3198.7C409.8 3155.5 410.1 3132.9 410.4 3100.0C410.7 3067.1 411.6 3036.6 412.0 3001.5C412.4 2960.9 412.8 2887.1 413.0 2870.0C413.0 2865.3 413.1 2861.4 413.1 2860.0" fill="none" stroke="#b03636" stroke-width="1.70" stroke-linejoin="round" stroke-linecap="butt" clip-path="url(#c3)"/>
<path d="M429.3 2860.0C429.3 2861.2 429.4 2865.2 429.4 2870.0C429.6 2891.3 429.8 3001.5 430.1 3067.2C430.4 3132.9 431.1 3209.3 431.7 3264.4C432.1 3304.7 432.7 3326.6 433.0 3370.0C433.5 3444.2 433.6 3591.5 434.0 3678.7C434.3 3743.7 434.6 3800.6 435.0 3850.0C435.3 3888.0 435.8 3917.9 436.2 3951.5C436.6 3984.6 437.0 4017.2 437.5 4050.1C438.0 4083.0 438.5 4121.7 439.3 4148.7C439.9 4167.8 440.6 4183.3 441.6 4198.0C442.4 4210.0 443.4 4222.2 444.9 4230.8C446.0 4236.7 447.5 4242.3 449.8 4245.6C451.8 4248.5 455.8 4250.6 459.7 4252.2C464.9 4254.3 474.2 4257.1 479.4 4257.1C483.3 4257.1 486.0 4252.6 489.2 4251.2C492.0 4250.0 494.7 4248.3 497.5 4248.3C500.2 4248.3 502.9 4249.6 505.7 4250.6C508.9 4251.8 512.0 4254.8 515.5 4256.5C519.1 4258.3 523.5 4261.1 527.0 4261.1C530.0 4261.1 532.8 4256.5 535.3 4256.5C537.1 4256.5 538.4 4256.8 540.2 4257.1C542.7 4257.6 545.3 4261.5 548.4 4263.0C552.1 4264.7 557.1 4265.7 561.5 4267.0C565.9 4268.3 570.8 4270.3 574.7 4270.9C577.7 4271.4 580.7 4271.9 582.9 4271.9C584.9 4271.9 586.7 4269.3 587.8 4267.0C590.0 4262.7 591.1 4252.1 592.5 4242.0C594.7 4226.2 596.6 4197.4 598.5 4179.4C599.9 4165.5 600.8 4149.5 602.6 4142.4C603.4 4139.1 604.8 4135.0 605.9 4135.0C607.2 4135.0 608.6 4141.5 609.6 4146.5C611.7 4156.6 612.9 4180.6 614.9 4195.8C616.7 4209.0 617.9 4232.8 621.1 4232.8C622.7 4232.8 627.2 4228.7 629.3 4228.7C631.9 4228.7 633.7 4236.3 635.5 4241.0C637.8 4246.8 639.0 4256.2 641.6 4261.5C643.6 4265.6 646.5 4270.3 649.8 4271.8C653.1 4273.3 657.4 4274.7 662.2 4274.7L664.8 4274.2L667.4 4273.8L670.0 4272.4L672.6 4272.5L675.2 4272.3L677.8 4271.3L680.4 4271.8L683.0 4272.6L685.6 4273.2L688.2 4273.9L690.8 4274.5L693.4 4274.3L696.0 4273.1L698.6 4271.3L701.2 4270.5L703.8 4270.0L706.4 4268.9L709.0 4268.1L711.6 4268.9L714.2 4268.9L716.8 4269.6L719.4 4270.4L722.0 4271.5L724.6 4272.5L727.2 4272.7L729.8 4272.8L732.4 4273.3L735.0 4273.8L737.6 4274.4L740.2 4274.7L742.8 4274.4L745.4 4274.7L748.0 4274.6L750.6 4274.6L753.2 4274.5L755.8 4274.6L758.4 4274.5L761.0 4274.2L763.6 4274.2L766.2 4273.2L768.8 4273.1L771.4 4273.3L774.0 4273.3L776.6 4273.5L779.2 4273.9L781.8 4273.7L784.4 4273.4L787.0 4273.4L789.6 4274.2L792.2 4274.8L794.8 4274.3L797.4 4274.2L800.0 4274.8L802.6 4275.6L805.2 4276.2L807.8 4276.6L810.4 4277.4L813.0 4276.9L815.6 4276.9L818.2 4277.3L820.8 4277.9L823.4 4277.5L826.0 4277.9L828.6 4278.6L831.2 4278.9L833.8 4279.1L836.4 4278.0L839.0 4277.8L841.6 4278.5L844.2 4278.0L846.8 4278.8L849.4 4277.8L852.0 4276.3L854.6 4275.5L857.2 4275.7L859.8 4276.2L862.4 4275.7L865.0 4275.9L867.6 4276.9L870.2 4277.6L872.8 4277.4L875.4 4277.9L878.0 4278.2L880.6 4278.6L883.2 4278.2L885.8 4277.6L888.4 4277.6L891.0 4277.3L893.6 4277.7L896.2 4277.8L898.8 4277.1L901.4 4276.9L904.0 4276.5L906.6 4276.6L909.2 4276.6L911.8 4275.9L914.4 4276.0L917.0 4276.2L919.6 4276.2L922.2 4276.0L924.8 4275.2L927.4 4274.9L930.0 4275.8L932.6 4275.8L935.2 4275.3L937.8 4275.3L940.4 4275.5L943.0 4274.2L945.6 4274.1L948.2 4272.9L950.8 4271.7L953.4 4270.3L956.0 4266.6L958.6 4260.3L961.2 4254.6L963.8 4251.3L966.4 4247.7L969.0 4244.3L971.6 4243.5L974.2 4244.3L976.8 4247.2L979.4 4251.2L982.0 4255.3L984.6 4260.8L987.2 4266.5L989.8 4270.5L992.4 4272.1L995.0 4274.1L997.6 4275.8L1000.2 4276.4L1002.8 4276.8L1005.4 4277.0L1008.0 4277.5L1010.6 4278.5L1013.2 4279.0L1015.8 4278.9L1018.4 4278.4L1021.0 4278.7L1023.6 4278.9L1026.2 4277.8L1028.8 4275.4L1031.4 4272.4L1034.0 4269.1L1036.6 4265.8L1039.2 4262.7L1041.8 4259.8L1044.4 4256.9L1047.0 4254.8L1049.6 4256.1L1052.2 4258.9L1054.8 4261.6L1057.4 4264.2L1060.0 4267.4L1062.6 4270.4L1065.2 4273.3L1067.8 4274.9L1070.4 4275.1L1073.0 4275.9L1075.6 4276.9L1078.2 4277.5L1080.8 4278.4L1083.4 4278.9L1086.0 4279.2L1088.6 4279.6L1091.2 4280.0L1093.8 4279.9L1096.4 4280.0L1099.0 4279.3L1101.6 4279.1L1104.2 4279.1L1106.8 4278.9L1109.4 4279.1L1112.0 4278.4L1114.6 4278.1L1117.2 4277.6L1119.8 4276.6L1122.4 4276.3L1125.0 4276.8L1127.6 4276.2L1130.2 4276.2L1132.8 4275.6L1135.4 4275.8L1138.0 4275.7L1140.6 4275.8L1143.2 4276.6L1145.8 4277.0L1148.4 4276.8L1151.0 4277.0L1153.6 4277.8L1156.2 4278.5L1158.8 4279.1L1161.4 4279.1L1164.0 4278.8L1166.6 4279.1L1169.2 4279.9L1171.8 4279.7L1174.4 4280.0L1177.0 4280.5L1179.6 4280.4L1182.2 4279.7L1184.8 4278.8L1187.4 4278.2L1190.0 4277.5L1192.6 4277.1L1195.2 4276.2L1197.8 4274.8L1200.4 4272.2L1203.0 4269.9L1205.6 4268.2L1208.2 4266.0L1210.8 4264.8L1213.4 4264.5L1216.0 4264.5L1218.6 4264.8L1221.2 4265.7L1223.8 4267.4L1226.4 4269.5L1229.0 4271.9L1231.6 4275.0L1234.2 4277.6L1236.8 4279.2L1239.4 4281.3L1242.0 4282.7L1244.6 4282.7L1247.2 4282.8L1249.8 4282.7L1252.4 4283.0L1255.0 4283.4L1257.6 4283.0L1260.2 4282.5L1262.8 4282.5L1265.4 4283.1L1268.0 4283.2L1270.6 4282.9L1273.2 4282.3L1275.8 4282.4L1278.4 4282.7L1281.0 4281.6L1283.6 4281.7L1286.2 4281.8L1288.8 4281.6L1291.4 4281.1L1294.0 4280.6L1296.6 4280.4L1299.2 4279.7L1301.8 4279.4L1304.4 4279.7L1307.0 4279.8L1309.6 4280.3L1312.2 4280.6L1314.8 4281.3L1317.4 4281.6L1320.0 4282.2L1322.6 4282.5L1325.2 4282.3L1327.8 4282.4L1330.4 4282.3L1333.0 4281.4L1335.6 4281.6L1338.2 4281.2L1340.8 4280.6L1343.4 4280.2L1346.0 4279.3L1348.6 4279.2L1351.2 4279.4L1353.8 4279.5L1356.4 4279.3L1359.0 4278.9L1361.6 4279.3L1364.2 4279.5L1366.8 4279.1L1369.4 4278.8L1372.0 4279.8L1374.6 4280.1L1377.2 4279.6L1379.8 4280.1L1382.4 4280.0L1385.0 4279.9L1387.6 4279.1L1390.2 4278.5L1392.8 4277.7L1395.4 4278.1L1398.0 4277.3L1400.6 4276.5L1403.2 4276.6L1405.8 4275.8L1408.4 4275.1L1411.0 4275.1L1413.6 4276.3L1416.2 4275.8L1418.8 4276.0L1421.4 4276.2L1424.0 4277.2L1426.6 4277.9L1429.2 4278.0L1431.8 4278.5L1434.4 4278.7L1437.0 4279.1L1439.6 4279.5L1442.2 4280.8L1444.8 4281.6L1447.4 4281.2L1450.0 4281.2L1452.6 4281.3L1455.2 4282.0L1457.8 4281.0L1460.4 4279.4L1463.0 4279.5L1465.6 4279.6L1468.2 4278.4L1470.8 4278.2L1473.4 4278.7L1476.0 4279.3L1478.6 4279.6L1481.2 4280.3L1483.8 4280.6L1486.4 4278.5L1489.0 4276.0L1491.6 4272.2L1494.2 4265.7L1496.8 4256.0L1499.4 4239.6L1502.0 4217.6L1504.6 4185.2L1507.2 4141.1L1509.8 4086.8L1512.4 4040.9L1515.0 3995.1L1517.6 3947.3L1520.2 3893.7L1522.8 3849.3L1525.4 3816.3L1528.0 3789.8L1530.6 3787.2L1533.2 3818.0L1535.8 3854.2L1538.4 3895.5L1541.0 3942.8L1543.6 4005.5L1546.2 4065.4L1548.8 4114.9L1551.4 4155.6L1554.0 4189.3L1556.6 4217.1L1559.2 4239.7L1561.8 4254.9L1564.4 4265.6L1567.0 4271.0L1569.6 4275.0L1572.2 4276.5L1574.8 4277.6L1577.4 4277.6L1580.0 4276.5L1582.6 4276.5L1585.2 4276.8L1587.8 4276.6L1590.4 4276.6L1593.0 4276.9L1595.6 4277.3L1598.2 4278.0L1600.8 4278.1L1603.4 4278.8L1606.0 4279.6L1608.6 4280.3L1611.2 4281.2L1613.8 4280.6L1616.4 4281.0L1619.0 4281.8L1621.6 4282.4L1624.2 4282.2L1626.8 4282.9L1629.4 4283.4L1632.0 4283.0L1634.6 4283.7L1637.2 4282.8L1639.8 4282.9L1642.4 4283.4L1645.0 4282.3L1647.6 4282.2L1650.2 4282.8L1652.8 4283.0L1655.4 4282.6L1658.0 4282.8L1660.6 4282.6L1663.2 4281.9L1665.8 4281.6L1668.4 4280.9L1671.0 4280.5L1673.6 4281.3L1676.2 4280.8L1678.8 4280.1L1681.4 4280.8L1684.0 4279.8L1686.6 4279.4L1689.2 4280.0L1691.8 4279.9L1694.4 4279.2L1697.0 4279.8L1699.6 4279.3L1702.2 4278.9L1704.8 4279.6L1707.4 4279.4L1710.0 4279.4L1712.6 4279.7L1715.2 4279.3L1717.8 4279.2L1720.4 4279.5L1723.0 4280.0L1725.6 4279.7L1728.2 4279.5L1730.8 4279.2L1733.4 4279.2L1736.0 4279.7L1738.6 4279.7L1741.2 4279.4L1743.8 4279.7L1746.4 4278.9L1749.0 4278.1L1751.6 4278.0L1754.2 4277.8L1756.8 4276.6L1759.4 4277.1L1762.0 4276.4L1764.6 4274.8L1767.2 4273.8L1769.8 4273.2L1772.4 4272.7L1775.0 4272.1L1777.6 4270.8L1780.2 4269.7L1782.8 4269.5L1785.4 4268.9L1788.0 4268.1L1790.6 4268.8L1793.2 4268.8L1795.8 4268.2L1798.4 4269.0L1801.0 4269.4L1803.6 4270.7L1806.2 4271.7L1808.8 4272.7L1811.4 4274.8L1814.0 4277.0L1816.6 4278.8L1819.2 4280.0L1821.8 4280.3L1824.4 4280.9L1827.0 4281.4L1829.6 4281.9L1832.2 4281.7L1834.8 4281.6L1837.4 4282.2L1840.0 4281.4L1842.6 4281.1L1845.2 4280.9L1847.8 4281.2L1850.4 4280.7L1853.0 4280.4L1855.6 4280.7L1858.2 4280.6L1860.8 4280.5L1863.4 4280.3L1866.0 4279.8L1868.6 4280.0L1871.2 4279.5L1873.8 4278.9L1874.7 4278.4" fill="none" stroke="#ff5a5a" stroke-width="4.00" stroke-linejoin="round" stroke-linecap="butt" clip-path="url(#c3)" stroke-opacity="0.16"/>
<path d="M429.3 2860.0C429.3 2861.2 429.4 2865.2 429.4 2870.0C429.6 2891.3 429.8 3001.5 430.1 3067.2C430.4 3132.9 431.1 3209.3 431.7 3264.4C432.1 3304.7 432.7 3326.6 433.0 3370.0C433.5 3444.2 433.6 3591.5 434.0 3678.7C434.3 3743.7 434.6 3800.6 435.0 3850.0C435.3 3888.0 435.8 3917.9 436.2 3951.5C436.6 3984.6 437.0 4017.2 437.5 4050.1C438.0 4083.0 438.5 4121.7 439.3 4148.7C439.9 4167.8 440.6 4183.3 441.6 4198.0C442.4 4210.0 443.4 4222.2 444.9 4230.8C446.0 4236.7 447.5 4242.3 449.8 4245.6C451.8 4248.5 455.8 4250.6 459.7 4252.2C464.9 4254.3 474.2 4257.1 479.4 4257.1C483.3 4257.1 486.0 4252.6 489.2 4251.2C492.0 4250.0 494.7 4248.3 497.5 4248.3C500.2 4248.3 502.9 4249.6 505.7 4250.6C508.9 4251.8 512.0 4254.8 515.5 4256.5C519.1 4258.3 523.5 4261.1 527.0 4261.1C530.0 4261.1 532.8 4256.5 535.3 4256.5C537.1 4256.5 538.4 4256.8 540.2 4257.1C542.7 4257.6 545.3 4261.5 548.4 4263.0C552.1 4264.7 557.1 4265.7 561.5 4267.0C565.9 4268.3 570.8 4270.3 574.7 4270.9C577.7 4271.4 580.7 4271.9 582.9 4271.9C584.9 4271.9 586.7 4269.3 587.8 4267.0C590.0 4262.7 591.1 4252.1 592.5 4242.0C594.7 4226.2 596.6 4197.4 598.5 4179.4C599.9 4165.5 600.8 4149.5 602.6 4142.4C603.4 4139.1 604.8 4135.0 605.9 4135.0C607.2 4135.0 608.6 4141.5 609.6 4146.5C611.7 4156.6 612.9 4180.6 614.9 4195.8C616.7 4209.0 617.9 4232.8 621.1 4232.8C622.7 4232.8 627.2 4228.7 629.3 4228.7C631.9 4228.7 633.7 4236.3 635.5 4241.0C637.8 4246.8 639.0 4256.2 641.6 4261.5C643.6 4265.6 646.5 4270.3 649.8 4271.8C653.1 4273.3 657.4 4274.7 662.2 4274.7L664.8 4274.2L667.4 4273.8L670.0 4272.4L672.6 4272.5L675.2 4272.3L677.8 4271.3L680.4 4271.8L683.0 4272.6L685.6 4273.2L688.2 4273.9L690.8 4274.5L693.4 4274.3L696.0 4273.1L698.6 4271.3L701.2 4270.5L703.8 4270.0L706.4 4268.9L709.0 4268.1L711.6 4268.9L714.2 4268.9L716.8 4269.6L719.4 4270.4L722.0 4271.5L724.6 4272.5L727.2 4272.7L729.8 4272.8L732.4 4273.3L735.0 4273.8L737.6 4274.4L740.2 4274.7L742.8 4274.4L745.4 4274.7L748.0 4274.6L750.6 4274.6L753.2 4274.5L755.8 4274.6L758.4 4274.5L761.0 4274.2L763.6 4274.2L766.2 4273.2L768.8 4273.1L771.4 4273.3L774.0 4273.3L776.6 4273.5L779.2 4273.9L781.8 4273.7L784.4 4273.4L787.0 4273.4L789.6 4274.2L792.2 4274.8L794.8 4274.3L797.4 4274.2L800.0 4274.8L802.6 4275.6L805.2 4276.2L807.8 4276.6L810.4 4277.4L813.0 4276.9L815.6 4276.9L818.2 4277.3L820.8 4277.9L823.4 4277.5L826.0 4277.9L828.6 4278.6L831.2 4278.9L833.8 4279.1L836.4 4278.0L839.0 4277.8L841.6 4278.5L844.2 4278.0L846.8 4278.8L849.4 4277.8L852.0 4276.3L854.6 4275.5L857.2 4275.7L859.8 4276.2L862.4 4275.7L865.0 4275.9L867.6 4276.9L870.2 4277.6L872.8 4277.4L875.4 4277.9L878.0 4278.2L880.6 4278.6L883.2 4278.2L885.8 4277.6L888.4 4277.6L891.0 4277.3L893.6 4277.7L896.2 4277.8L898.8 4277.1L901.4 4276.9L904.0 4276.5L906.6 4276.6L909.2 4276.6L911.8 4275.9L914.4 4276.0L917.0 4276.2L919.6 4276.2L922.2 4276.0L924.8 4275.2L927.4 4274.9L930.0 4275.8L932.6 4275.8L935.2 4275.3L937.8 4275.3L940.4 4275.5L943.0 4274.2L945.6 4274.1L948.2 4272.9L950.8 4271.7L953.4 4270.3L956.0 4266.6L958.6 4260.3L961.2 4254.6L963.8 4251.3L966.4 4247.7L969.0 4244.3L971.6 4243.5L974.2 4244.3L976.8 4247.2L979.4 4251.2L982.0 4255.3L984.6 4260.8L987.2 4266.5L989.8 4270.5L992.4 4272.1L995.0 4274.1L997.6 4275.8L1000.2 4276.4L1002.8 4276.8L1005.4 4277.0L1008.0 4277.5L1010.6 4278.5L1013.2 4279.0L1015.8 4278.9L1018.4 4278.4L1021.0 4278.7L1023.6 4278.9L1026.2 4277.8L1028.8 4275.4L1031.4 4272.4L1034.0 4269.1L1036.6 4265.8L1039.2 4262.7L1041.8 4259.8L1044.4 4256.9L1047.0 4254.8L1049.6 4256.1L1052.2 4258.9L1054.8 4261.6L1057.4 4264.2L1060.0 4267.4L1062.6 4270.4L1065.2 4273.3L1067.8 4274.9L1070.4 4275.1L1073.0 4275.9L1075.6 4276.9L1078.2 4277.5L1080.8 4278.4L1083.4 4278.9L1086.0 4279.2L1088.6 4279.6L1091.2 4280.0L1093.8 4279.9L1096.4 4280.0L1099.0 4279.3L1101.6 4279.1L1104.2 4279.1L1106.8 4278.9L1109.4 4279.1L1112.0 4278.4L1114.6 4278.1L1117.2 4277.6L1119.8 4276.6L1122.4 4276.3L1125.0 4276.8L1127.6 4276.2L1130.2 4276.2L1132.8 4275.6L1135.4 4275.8L1138.0 4275.7L1140.6 4275.8L1143.2 4276.6L1145.8 4277.0L1148.4 4276.8L1151.0 4277.0L1153.6 4277.8L1156.2 4278.5L1158.8 4279.1L1161.4 4279.1L1164.0 4278.8L1166.6 4279.1L1169.2 4279.9L1171.8 4279.7L1174.4 4280.0L1177.0 4280.5L1179.6 4280.4L1182.2 4279.7L1184.8 4278.8L1187.4 4278.2L1190.0 4277.5L1192.6 4277.1L1195.2 4276.2L1197.8 4274.8L1200.4 4272.2L1203.0 4269.9L1205.6 4268.2L1208.2 4266.0L1210.8 4264.8L1213.4 4264.5L1216.0 4264.5L1218.6 4264.8L1221.2 4265.7L1223.8 4267.4L1226.4 4269.5L1229.0 4271.9L1231.6 4275.0L1234.2 4277.6L1236.8 4279.2L1239.4 4281.3L1242.0 4282.7L1244.6 4282.7L1247.2 4282.8L1249.8 4282.7L1252.4 4283.0L1255.0 4283.4L1257.6 4283.0L1260.2 4282.5L1262.8 4282.5L1265.4 4283.1L1268.0 4283.2L1270.6 4282.9L1273.2 4282.3L1275.8 4282.4L1278.4 4282.7L1281.0 4281.6L1283.6 4281.7L1286.2 4281.8L1288.8 4281.6L1291.4 4281.1L1294.0 4280.6L1296.6 4280.4L1299.2 4279.7L1301.8 4279.4L1304.4 4279.7L1307.0 4279.8L1309.6 4280.3L1312.2 4280.6L1314.8 4281.3L1317.4 4281.6L1320.0 4282.2L1322.6 4282.5L1325.2 4282.3L1327.8 4282.4L1330.4 4282.3L1333.0 4281.4L1335.6 4281.6L1338.2 4281.2L1340.8 4280.6L1343.4 4280.2L1346.0 4279.3L1348.6 4279.2L1351.2 4279.4L1353.8 4279.5L1356.4 4279.3L1359.0 4278.9L1361.6 4279.3L1364.2 4279.5L1366.8 4279.1L1369.4 4278.8L1372.0 4279.8L1374.6 4280.1L1377.2 4279.6L1379.8 4280.1L1382.4 4280.0L1385.0 4279.9L1387.6 4279.1L1390.2 4278.5L1392.8 4277.7L1395.4 4278.1L1398.0 4277.3L1400.6 4276.5L1403.2 4276.6L1405.8 4275.8L1408.4 4275.1L1411.0 4275.1L1413.6 4276.3L1416.2 4275.8L1418.8 4276.0L1421.4 4276.2L1424.0 4277.2L1426.6 4277.9L1429.2 4278.0L1431.8 4278.5L1434.4 4278.7L1437.0 4279.1L1439.6 4279.5L1442.2 4280.8L1444.8 4281.6L1447.4 4281.2L1450.0 4281.2L1452.6 4281.3L1455.2 4282.0L1457.8 4281.0L1460.4 4279.4L1463.0 4279.5L1465.6 4279.6L1468.2 4278.4L1470.8 4278.2L1473.4 4278.7L1476.0 4279.3L1478.6 4279.6L1481.2 4280.3L1483.8 4280.6L1486.4 4278.5L1489.0 4276.0L1491.6 4272.2L1494.2 4265.7L1496.8 4256.0L1499.4 4239.6L1502.0 4217.6L1504.6 4185.2L1507.2 4141.1L1509.8 4086.8L1512.4 4040.9L1515.0 3995.1L1517.6 3947.3L1520.2 3893.7L1522.8 3849.3L1525.4 3816.3L1528.0 3789.8L1530.6 3787.2L1533.2 3818.0L1535.8 3854.2L1538.4 3895.5L1541.0 3942.8L1543.6 4005.5L1546.2 4065.4L1548.8 4114.9L1551.4 4155.6L1554.0 4189.3L1556.6 4217.1L1559.2 4239.7L1561.8 4254.9L1564.4 4265.6L1567.0 4271.0L1569.6 4275.0L1572.2 4276.5L1574.8 4277.6L1577.4 4277.6L1580.0 4276.5L1582.6 4276.5L1585.2 4276.8L1587.8 4276.6L1590.4 4276.6L1593.0 4276.9L1595.6 4277.3L1598.2 4278.0L1600.8 4278.1L1603.4 4278.8L1606.0 4279.6L1608.6 4280.3L1611.2 4281.2L1613.8 4280.6L1616.4 4281.0L1619.0 4281.8L1621.6 4282.4L1624.2 4282.2L1626.8 4282.9L1629.4 4283.4L1632.0 4283.0L1634.6 4283.7L1637.2 4282.8L1639.8 4282.9L1642.4 4283.4L1645.0 4282.3L1647.6 4282.2L1650.2 4282.8L1652.8 4283.0L1655.4 4282.6L1658.0 4282.8L1660.6 4282.6L1663.2 4281.9L1665.8 4281.6L1668.4 4280.9L1671.0 4280.5L1673.6 4281.3L1676.2 4280.8L1678.8 4280.1L1681.4 4280.8L1684.0 4279.8L1686.6 4279.4L1689.2 4280.0L1691.8 4279.9L1694.4 4279.2L1697.0 4279.8L1699.6 4279.3L1702.2 4278.9L1704.8 4279.6L1707.4 4279.4L1710.0 4279.4L1712.6 4279.7L1715.2 4279.3L1717.8 4279.2L1720.4 4279.5L1723.0 4280.0L1725.6 4279.7L1728.2 4279.5L1730.8 4279.2L1733.4 4279.2L1736.0 4279.7L1738.6 4279.7L1741.2 4279.4L1743.8 4279.7L1746.4 4278.9L1749.0 4278.1L1751.6 4278.0L1754.2 4277.8L1756.8 4276.6L1759.4 4277.1L1762.0 4276.4L1764.6 4274.8L1767.2 4273.8L1769.8 4273.2L1772.4 4272.7L1775.0 4272.1L1777.6 4270.8L1780.2 4269.7L1782.8 4269.5L1785.4 4268.9L1788.0 4268.1L1790.6 4268.8L1793.2 4268.8L1795.8 4268.2L1798.4 4269.0L1801.0 4269.4L1803.6 4270.7L1806.2 4271.7L1808.8 4272.7L1811.4 4274.8L1814.0 4277.0L1816.6 4278.8L1819.2 4280.0L1821.8 4280.3L1824.4 4280.9L1827.0 4281.4L1829.6 4281.9L1832.2 4281.7L1834.8 4281.6L1837.4 4282.2L1840.0 4281.4L1842.6 4281.1L1845.2 4280.9L1847.8 4281.2L1850.4 4280.7L1853.0 4280.4L1855.6 4280.7L1858.2 4280.6L1860.8 4280.5L1863.4 4280.3L1866.0 4279.8L1868.6 4280.0L1871.2 4279.5L1873.8 4278.9L1874.7 4278.4" fill="none" stroke="#b03636" stroke-width="1.70" stroke-linejoin="round" stroke-linecap="butt" clip-path="url(#c3)"/>
<path d="M212.60 23.80 H2126.30 V4301.30 H212.60 Z" fill="none" stroke="#000" stroke-width="5.80" stroke-linejoin="round"/>
<line x1="212.60" y1="1449.70" x2="2126.30" y2="1449.70" stroke="#000" stroke-width="5.80" stroke-linecap="butt"/>
<line x1="212.60" y1="2875.50" x2="2126.30" y2="2875.50" stroke="#000" stroke-width="5.80" stroke-linecap="butt"/>
<line x1="290.74" y1="23.80" x2="290.74" y2="51.30" stroke="#000" stroke-width="5.00" stroke-linecap="butt"/>
<line x1="368.88" y1="23.80" x2="368.88" y2="37.40" stroke="#000" stroke-width="5.00" stroke-linecap="butt"/>
<line x1="447.02" y1="23.80" x2="447.02" y2="51.30" stroke="#000" stroke-width="5.00" stroke-linecap="butt"/>
<line x1="525.16" y1="23.80" x2="525.16" y2="37.40" stroke="#000" stroke-width="5.00" stroke-linecap="butt"/>
<line x1="603.30" y1="23.80" x2="603.30" y2="51.30" stroke="#000" stroke-width="5.00" stroke-linecap="butt"/>
<line x1="681.44" y1="23.80" x2="681.44" y2="37.40" stroke="#000" stroke-width="5.00" stroke-linecap="butt"/>
<line x1="759.58" y1="23.80" x2="759.58" y2="51.30" stroke="#000" stroke-width="5.00" stroke-linecap="butt"/>
<line x1="837.72" y1="23.80" x2="837.72" y2="37.40" stroke="#000" stroke-width="5.00" stroke-linecap="butt"/>
<line x1="915.86" y1="23.80" x2="915.86" y2="51.30" stroke="#000" stroke-width="5.00" stroke-linecap="butt"/>
<line x1="994.00" y1="23.80" x2="994.00" y2="37.40" stroke="#000" stroke-width="5.00" stroke-linecap="butt"/>
<line x1="1072.14" y1="23.80" x2="1072.14" y2="51.30" stroke="#000" stroke-width="5.00" stroke-linecap="butt"/>
<line x1="1150.28" y1="23.80" x2="1150.28" y2="37.40" stroke="#000" stroke-width="5.00" stroke-linecap="butt"/>
<line x1="1228.42" y1="23.80" x2="1228.42" y2="51.30" stroke="#000" stroke-width="5.00" stroke-linecap="butt"/>
<line x1="1306.56" y1="23.80" x2="1306.56" y2="37.40" stroke="#000" stroke-width="5.00" stroke-linecap="butt"/>
<line x1="1384.70" y1="23.80" x2="1384.70" y2="51.30" stroke="#000" stroke-width="5.00" stroke-linecap="butt"/>
<line x1="1462.84" y1="23.80" x2="1462.84" y2="37.40" stroke="#000" stroke-width="5.00" stroke-linecap="butt"/>
<line x1="1540.98" y1="23.80" x2="1540.98" y2="51.30" stroke="#000" stroke-width="5.00" stroke-linecap="butt"/>
<line x1="1619.12" y1="23.80" x2="1619.12" y2="37.40" stroke="#000" stroke-width="5.00" stroke-linecap="butt"/>
<line x1="1697.26" y1="23.80" x2="1697.26" y2="51.30" stroke="#000" stroke-width="5.00" stroke-linecap="butt"/>
<line x1="1775.40" y1="23.80" x2="1775.40" y2="37.40" stroke="#000" stroke-width="5.00" stroke-linecap="butt"/>
<line x1="1853.54" y1="23.80" x2="1853.54" y2="51.30" stroke="#000" stroke-width="5.00" stroke-linecap="butt"/>
<line x1="1931.68" y1="23.80" x2="1931.68" y2="37.40" stroke="#000" stroke-width="5.00" stroke-linecap="butt"/>
<line x1="2009.82" y1="23.80" x2="2009.82" y2="51.30" stroke="#000" stroke-width="5.00" stroke-linecap="butt"/>
<line x1="2087.96" y1="23.80" x2="2087.96" y2="37.40" stroke="#000" stroke-width="5.00" stroke-linecap="butt"/>
<line x1="290.74" y1="1449.70" x2="290.74" y2="1477.20" stroke="#000" stroke-width="5.00" stroke-linecap="butt"/>
<line x1="368.88" y1="1449.70" x2="368.88" y2="1463.30" stroke="#000" stroke-width="5.00" stroke-linecap="butt"/>
<line x1="447.02" y1="1449.70" x2="447.02" y2="1477.20" stroke="#000" stroke-width="5.00" stroke-linecap="butt"/>
<line x1="525.16" y1="1449.70" x2="525.16" y2="1463.30" stroke="#000" stroke-width="5.00" stroke-linecap="butt"/>
<line x1="603.30" y1="1449.70" x2="603.30" y2="1477.20" stroke="#000" stroke-width="5.00" stroke-linecap="butt"/>
<line x1="681.44" y1="1449.70" x2="681.44" y2="1463.30" stroke="#000" stroke-width="5.00" stroke-linecap="butt"/>
<line x1="759.58" y1="1449.70" x2="759.58" y2="1477.20" stroke="#000" stroke-width="5.00" stroke-linecap="butt"/>
<line x1="837.72" y1="1449.70" x2="837.72" y2="1463.30" stroke="#000" stroke-width="5.00" stroke-linecap="butt"/>
<line x1="915.86" y1="1449.70" x2="915.86" y2="1477.20" stroke="#000" stroke-width="5.00" stroke-linecap="butt"/>
<line x1="994.00" y1="1449.70" x2="994.00" y2="1463.30" stroke="#000" stroke-width="5.00" stroke-linecap="butt"/>
<line x1="1072.14" y1="1449.70" x2="1072.14" y2="1477.20" stroke="#000" stroke-width="5.00" stroke-linecap="butt"/>
<line x1="1150.28" y1="1449.70" x2="1150.28" y2="1463.30" stroke="#000" stroke-width="5.00" stroke-linecap="butt"/>
<line x1="1228.42" y1="1449.70" x2="1228.42" y2="1477.20" stroke="#000" stroke-width="5.00" stroke-linecap="butt"/>
<line x1="1306.56" y1="1449.70" x2="1306.56" y2="1463.30" stroke="#000" stroke-width="5.00" stroke-linecap="butt"/>
<line x1="1384.70" y1="1449.70" x2="1384.70" y2="1477.20" stroke="#000" stroke-width="5.00" stroke-linecap="butt"/>
<line x1="1462.84" y1="1449.70" x2="1462.84" y2="1463.30" stroke="#000" stroke-width="5.00" stroke-linecap="butt"/>
<line x1="1540.98" y1="1449.70" x2="1540.98" y2="1477.20" stroke="#000" stroke-width="5.00" stroke-linecap="butt"/>
<line x1="1619.12" y1="1449.70" x2="1619.12" y2="1463.30" stroke="#000" stroke-width="5.00" stroke-linecap="butt"/>
<line x1="1697.26" y1="1449.70" x2="1697.26" y2="1477.20" stroke="#000" stroke-width="5.00" stroke-linecap="butt"/>
<line x1="1775.40" y1="1449.70" x2="1775.40" y2="1463.30" stroke="#000" stroke-width="5.00" stroke-linecap="butt"/>
<line x1="1853.54" y1="1449.70" x2="1853.54" y2="1477.20" stroke="#000" stroke-width="5.00" stroke-linecap="butt"/>
<line x1="1931.68" y1="1449.70" x2="1931.68" y2="1463.30" stroke="#000" stroke-width="5.00" stroke-linecap="butt"/>
<line x1="2009.82" y1="1449.70" x2="2009.82" y2="1477.20" stroke="#000" stroke-width="5.00" stroke-linecap="butt"/>
<line x1="2087.96" y1="1449.70" x2="2087.96" y2="1463.30" stroke="#000" stroke-width="5.00" stroke-linecap="butt"/>
<line x1="290.74" y1="2875.50" x2="290.74" y2="2903.00" stroke="#000" stroke-width="5.00" stroke-linecap="butt"/>
<line x1="368.88" y1="2875.50" x2="368.88" y2="2889.10" stroke="#000" stroke-width="5.00" stroke-linecap="butt"/>
<line x1="447.02" y1="2875.50" x2="447.02" y2="2903.00" stroke="#000" stroke-width="5.00" stroke-linecap="butt"/>
<line x1="525.16" y1="2875.50" x2="525.16" y2="2889.10" stroke="#000" stroke-width="5.00" stroke-linecap="butt"/>
<line x1="603.30" y1="2875.50" x2="603.30" y2="2903.00" stroke="#000" stroke-width="5.00" stroke-linecap="butt"/>
<line x1="681.44" y1="2875.50" x2="681.44" y2="2889.10" stroke="#000" stroke-width="5.00" stroke-linecap="butt"/>
<line x1="759.58" y1="2875.50" x2="759.58" y2="2903.00" stroke="#000" stroke-width="5.00" stroke-linecap="butt"/>
<line x1="837.72" y1="2875.50" x2="837.72" y2="2889.10" stroke="#000" stroke-width="5.00" stroke-linecap="butt"/>
<line x1="915.86" y1="2875.50" x2="915.86" y2="2903.00" stroke="#000" stroke-width="5.00" stroke-linecap="butt"/>
<line x1="994.00" y1="2875.50" x2="994.00" y2="2889.10" stroke="#000" stroke-width="5.00" stroke-linecap="butt"/>
<line x1="1072.14" y1="2875.50" x2="1072.14" y2="2903.00" stroke="#000" stroke-width="5.00" stroke-linecap="butt"/>
<line x1="1150.28" y1="2875.50" x2="1150.28" y2="2889.10" stroke="#000" stroke-width="5.00" stroke-linecap="butt"/>
<line x1="1228.42" y1="2875.50" x2="1228.42" y2="2903.00" stroke="#000" stroke-width="5.00" stroke-linecap="butt"/>
<line x1="1306.56" y1="2875.50" x2="1306.56" y2="2889.10" stroke="#000" stroke-width="5.00" stroke-linecap="butt"/>
<line x1="1384.70" y1="2875.50" x2="1384.70" y2="2903.00" stroke="#000" stroke-width="5.00" stroke-linecap="butt"/>
<line x1="1462.84" y1="2875.50" x2="1462.84" y2="2889.10" stroke="#000" stroke-width="5.00" stroke-linecap="butt"/>
<line x1="1540.98" y1="2875.50" x2="1540.98" y2="2903.00" stroke="#000" stroke-width="5.00" stroke-linecap="butt"/>
<line x1="1619.12" y1="2875.50" x2="1619.12" y2="2889.10" stroke="#000" stroke-width="5.00" stroke-linecap="butt"/>
<line x1="1697.26" y1="2875.50" x2="1697.26" y2="2903.00" stroke="#000" stroke-width="5.00" stroke-linecap="butt"/>
<line x1="1775.40" y1="2875.50" x2="1775.40" y2="2889.10" stroke="#000" stroke-width="5.00" stroke-linecap="butt"/>
<line x1="1853.54" y1="2875.50" x2="1853.54" y2="2903.00" stroke="#000" stroke-width="5.00" stroke-linecap="butt"/>
<line x1="1931.68" y1="2875.50" x2="1931.68" y2="2889.10" stroke="#000" stroke-width="5.00" stroke-linecap="butt"/>
<line x1="2009.82" y1="2875.50" x2="2009.82" y2="2903.00" stroke="#000" stroke-width="5.00" stroke-linecap="butt"/>
<line x1="2087.96" y1="2875.50" x2="2087.96" y2="2889.10" stroke="#000" stroke-width="5.00" stroke-linecap="butt"/>
<line x1="212.60" y1="4301.30" x2="212.60" y2="4314.90" stroke="#000" stroke-width="5.80" stroke-linecap="butt"/>
<line x1="290.74" y1="4301.30" x2="290.74" y2="4328.80" stroke="#000" stroke-width="5.00" stroke-linecap="butt"/>
<line x1="368.88" y1="4301.30" x2="368.88" y2="4314.90" stroke="#000" stroke-width="5.00" stroke-linecap="butt"/>
<line x1="447.02" y1="4301.30" x2="447.02" y2="4328.80" stroke="#000" stroke-width="5.00" stroke-linecap="butt"/>
<line x1="525.16" y1="4301.30" x2="525.16" y2="4314.90" stroke="#000" stroke-width="5.00" stroke-linecap="butt"/>
<line x1="603.30" y1="4301.30" x2="603.30" y2="4328.80" stroke="#000" stroke-width="5.00" stroke-linecap="butt"/>
<line x1="681.44" y1="4301.30" x2="681.44" y2="4314.90" stroke="#000" stroke-width="5.00" stroke-linecap="butt"/>
<line x1="759.58" y1="4301.30" x2="759.58" y2="4328.80" stroke="#000" stroke-width="5.00" stroke-linecap="butt"/>
<line x1="837.72" y1="4301.30" x2="837.72" y2="4314.90" stroke="#000" stroke-width="5.00" stroke-linecap="butt"/>
<line x1="915.86" y1="4301.30" x2="915.86" y2="4328.80" stroke="#000" stroke-width="5.00" stroke-linecap="butt"/>
<line x1="994.00" y1="4301.30" x2="994.00" y2="4314.90" stroke="#000" stroke-width="5.00" stroke-linecap="butt"/>
<line x1="1072.14" y1="4301.30" x2="1072.14" y2="4328.80" stroke="#000" stroke-width="5.00" stroke-linecap="butt"/>
<line x1="1150.28" y1="4301.30" x2="1150.28" y2="4314.90" stroke="#000" stroke-width="5.00" stroke-linecap="butt"/>
<line x1="1228.42" y1="4301.30" x2="1228.42" y2="4328.80" stroke="#000" stroke-width="5.00" stroke-linecap="butt"/>
<line x1="1306.56" y1="4301.30" x2="1306.56" y2="4314.90" stroke="#000" stroke-width="5.00" stroke-linecap="butt"/>
<line x1="1384.70" y1="4301.30" x2="1384.70" y2="4328.80" stroke="#000" stroke-width="5.00" stroke-linecap="butt"/>
<line x1="1462.84" y1="4301.30" x2="1462.84" y2="4314.90" stroke="#000" stroke-width="5.00" stroke-linecap="butt"/>
<line x1="1540.98" y1="4301.30" x2="1540.98" y2="4328.80" stroke="#000" stroke-width="5.00" stroke-linecap="butt"/>
<line x1="1619.12" y1="4301.30" x2="1619.12" y2="4314.90" stroke="#000" stroke-width="5.00" stroke-linecap="butt"/>
<line x1="1697.26" y1="4301.30" x2="1697.26" y2="4328.80" stroke="#000" stroke-width="5.00" stroke-linecap="butt"/>
<line x1="1775.40" y1="4301.30" x2="1775.40" y2="4314.90" stroke="#000" stroke-width="5.00" stroke-linecap="butt"/>
<line x1="1853.54" y1="4301.30" x2="1853.54" y2="4328.80" stroke="#000" stroke-width="5.00" stroke-linecap="butt"/>
<line x1="1931.68" y1="4301.30" x2="1931.68" y2="4314.90" stroke="#000" stroke-width="5.00" stroke-linecap="butt"/>
<line x1="2009.82" y1="4301.30" x2="2009.82" y2="4328.80" stroke="#000" stroke-width="5.00" stroke-linecap="butt"/>
<line x1="2087.96" y1="4301.30" x2="2087.96" y2="4314.90" stroke="#000" stroke-width="5.00" stroke-linecap="butt"/>
<line x1="212.60" y1="1430.30" x2="240.10" y2="1430.30" stroke="#000" stroke-width="5.00" stroke-linecap="butt"/>
<line x1="2126.30" y1="1430.30" x2="2098.80" y2="1430.30" stroke="#000" stroke-width="5.00" stroke-linecap="butt"/>
<line x1="212.60" y1="1329.76" x2="226.20" y2="1329.76" stroke="#000" stroke-width="5.00" stroke-linecap="butt"/>
<line x1="2126.30" y1="1329.76" x2="2112.70" y2="1329.76" stroke="#000" stroke-width="5.00" stroke-linecap="butt"/>
<line x1="212.60" y1="1229.22" x2="240.10" y2="1229.22" stroke="#000" stroke-width="5.00" stroke-linecap="butt"/>
<line x1="2126.30" y1="1229.22" x2="2098.80" y2="1229.22" stroke="#000" stroke-width="5.00" stroke-linecap="butt"/>
<line x1="212.60" y1="1128.68" x2="226.20" y2="1128.68" stroke="#000" stroke-width="5.00" stroke-linecap="butt"/>
<line x1="2126.30" y1="1128.68" x2="2112.70" y2="1128.68" stroke="#000" stroke-width="5.00" stroke-linecap="butt"/>
<line x1="212.60" y1="1028.14" x2="240.10" y2="1028.14" stroke="#000" stroke-width="5.00" stroke-linecap="butt"/>
<line x1="2126.30" y1="1028.14" x2="2098.80" y2="1028.14" stroke="#000" stroke-width="5.00" stroke-linecap="butt"/>
<line x1="212.60" y1="927.60" x2="226.20" y2="927.60" stroke="#000" stroke-width="5.00" stroke-linecap="butt"/>
<line x1="2126.30" y1="927.60" x2="2112.70" y2="927.60" stroke="#000" stroke-width="5.00" stroke-linecap="butt"/>
<line x1="212.60" y1="827.06" x2="240.10" y2="827.06" stroke="#000" stroke-width="5.00" stroke-linecap="butt"/>
<line x1="2126.30" y1="827.06" x2="2098.80" y2="827.06" stroke="#000" stroke-width="5.00" stroke-linecap="butt"/>
<line x1="212.60" y1="726.52" x2="226.20" y2="726.52" stroke="#000" stroke-width="5.00" stroke-linecap="butt"/>
<line x1="2126.30" y1="726.52" x2="2112.70" y2="726.52" stroke="#000" stroke-width="5.00" stroke-linecap="butt"/>
<line x1="212.60" y1="625.98" x2="240.10" y2="625.98" stroke="#000" stroke-width="5.00" stroke-linecap="butt"/>
<line x1="2126.30" y1="625.98" x2="2098.80" y2="625.98" stroke="#000" stroke-width="5.00" stroke-linecap="butt"/>
<line x1="212.60" y1="525.44" x2="226.20" y2="525.44" stroke="#000" stroke-width="5.00" stroke-linecap="butt"/>
<line x1="2126.30" y1="525.44" x2="2112.70" y2="525.44" stroke="#000" stroke-width="5.00" stroke-linecap="butt"/>
<line x1="212.60" y1="424.90" x2="240.10" y2="424.90" stroke="#000" stroke-width="5.00" stroke-linecap="butt"/>
<line x1="2126.30" y1="424.90" x2="2098.80" y2="424.90" stroke="#000" stroke-width="5.00" stroke-linecap="butt"/>
<line x1="212.60" y1="324.36" x2="226.20" y2="324.36" stroke="#000" stroke-width="5.00" stroke-linecap="butt"/>
<line x1="2126.30" y1="324.36" x2="2112.70" y2="324.36" stroke="#000" stroke-width="5.00" stroke-linecap="butt"/>
<line x1="212.60" y1="223.82" x2="240.10" y2="223.82" stroke="#000" stroke-width="5.00" stroke-linecap="butt"/>
<line x1="2126.30" y1="223.82" x2="2098.80" y2="223.82" stroke="#000" stroke-width="5.00" stroke-linecap="butt"/>
<line x1="212.60" y1="123.28" x2="226.20" y2="123.28" stroke="#000" stroke-width="5.00" stroke-linecap="butt"/>
<line x1="2126.30" y1="123.28" x2="2112.70" y2="123.28" stroke="#000" stroke-width="5.00" stroke-linecap="butt"/>
<line x1="212.60" y1="2861.60" x2="240.10" y2="2861.60" stroke="#000" stroke-width="5.00" stroke-linecap="butt"/>
<line x1="2126.30" y1="2861.60" x2="2098.80" y2="2861.60" stroke="#000" stroke-width="5.00" stroke-linecap="butt"/>
<line x1="212.60" y1="2720.50" x2="226.20" y2="2720.50" stroke="#000" stroke-width="5.00" stroke-linecap="butt"/>
<line x1="2126.30" y1="2720.50" x2="2112.70" y2="2720.50" stroke="#000" stroke-width="5.00" stroke-linecap="butt"/>
<line x1="212.60" y1="2579.40" x2="240.10" y2="2579.40" stroke="#000" stroke-width="5.00" stroke-linecap="butt"/>
<line x1="2126.30" y1="2579.40" x2="2098.80" y2="2579.40" stroke="#000" stroke-width="5.00" stroke-linecap="butt"/>
<line x1="212.60" y1="2438.30" x2="226.20" y2="2438.30" stroke="#000" stroke-width="5.00" stroke-linecap="butt"/>
<line x1="2126.30" y1="2438.30" x2="2112.70" y2="2438.30" stroke="#000" stroke-width="5.00" stroke-linecap="butt"/>
<line x1="212.60" y1="2297.20" x2="240.10" y2="2297.20" stroke="#000" stroke-width="5.00" stroke-linecap="butt"/>
<line x1="2126.30" y1="2297.20" x2="2098.80" y2="2297.20" stroke="#000" stroke-width="5.00" stroke-linecap="butt"/>
<line x1="212.60" y1="2156.10" x2="226.20" y2="2156.10" stroke="#000" stroke-width="5.00" stroke-linecap="butt"/>
<line x1="2126.30" y1="2156.10" x2="2112.70" y2="2156.10" stroke="#000" stroke-width="5.00" stroke-linecap="butt"/>
<line x1="212.60" y1="2015.00" x2="240.10" y2="2015.00" stroke="#000" stroke-width="5.00" stroke-linecap="butt"/>
<line x1="2126.30" y1="2015.00" x2="2098.80" y2="2015.00" stroke="#000" stroke-width="5.00" stroke-linecap="butt"/>
<line x1="212.60" y1="1873.90" x2="226.20" y2="1873.90" stroke="#000" stroke-width="5.00" stroke-linecap="butt"/>
<line x1="2126.30" y1="1873.90" x2="2112.70" y2="1873.90" stroke="#000" stroke-width="5.00" stroke-linecap="butt"/>
<line x1="212.60" y1="1732.80" x2="240.10" y2="1732.80" stroke="#000" stroke-width="5.00" stroke-linecap="butt"/>
<line x1="2126.30" y1="1732.80" x2="2098.80" y2="1732.80" stroke="#000" stroke-width="5.00" stroke-linecap="butt"/>
<line x1="212.60" y1="1591.70" x2="226.20" y2="1591.70" stroke="#000" stroke-width="5.00" stroke-linecap="butt"/>
<line x1="2126.30" y1="1591.70" x2="2112.70" y2="1591.70" stroke="#000" stroke-width="5.00" stroke-linecap="butt"/>
<line x1="212.60" y1="4273.30" x2="240.10" y2="4273.30" stroke="#000" stroke-width="5.00" stroke-linecap="butt"/>
<line x1="2126.30" y1="4273.30" x2="2098.80" y2="4273.30" stroke="#000" stroke-width="5.00" stroke-linecap="butt"/>
<line x1="212.60" y1="4133.45" x2="226.20" y2="4133.45" stroke="#000" stroke-width="5.00" stroke-linecap="butt"/>
<line x1="2126.30" y1="4133.45" x2="2112.70" y2="4133.45" stroke="#000" stroke-width="5.00" stroke-linecap="butt"/>
<line x1="212.60" y1="3993.60" x2="240.10" y2="3993.60" stroke="#000" stroke-width="5.00" stroke-linecap="butt"/>
<line x1="2126.30" y1="3993.60" x2="2098.80" y2="3993.60" stroke="#000" stroke-width="5.00" stroke-linecap="butt"/>
<line x1="212.60" y1="3853.75" x2="226.20" y2="3853.75" stroke="#000" stroke-width="5.00" stroke-linecap="butt"/>
<line x1="2126.30" y1="3853.75" x2="2112.70" y2="3853.75" stroke="#000" stroke-width="5.00" stroke-linecap="butt"/>
<line x1="212.60" y1="3713.90" x2="240.10" y2="3713.90" stroke="#000" stroke-width="5.00" stroke-linecap="butt"/>
<line x1="2126.30" y1="3713.90" x2="2098.80" y2="3713.90" stroke="#000" stroke-width="5.00" stroke-linecap="butt"/>
<line x1="212.60" y1="3574.05" x2="226.20" y2="3574.05" stroke="#000" stroke-width="5.00" stroke-linecap="butt"/>
<line x1="2126.30" y1="3574.05" x2="2112.70" y2="3574.05" stroke="#000" stroke-width="5.00" stroke-linecap="butt"/>
<line x1="212.60" y1="3434.20" x2="240.10" y2="3434.20" stroke="#000" stroke-width="5.00" stroke-linecap="butt"/>
<line x1="2126.30" y1="3434.20" x2="2098.80" y2="3434.20" stroke="#000" stroke-width="5.00" stroke-linecap="butt"/>
<line x1="212.60" y1="3294.35" x2="226.20" y2="3294.35" stroke="#000" stroke-width="5.00" stroke-linecap="butt"/>
<line x1="2126.30" y1="3294.35" x2="2112.70" y2="3294.35" stroke="#000" stroke-width="5.00" stroke-linecap="butt"/>
<line x1="212.60" y1="3154.50" x2="240.10" y2="3154.50" stroke="#000" stroke-width="5.00" stroke-linecap="butt"/>
<line x1="2126.30" y1="3154.50" x2="2098.80" y2="3154.50" stroke="#000" stroke-width="5.00" stroke-linecap="butt"/>
<line x1="212.60" y1="3014.65" x2="226.20" y2="3014.65" stroke="#000" stroke-width="5.00" stroke-linecap="butt"/>
<line x1="2126.30" y1="3014.65" x2="2112.70" y2="3014.65" stroke="#000" stroke-width="5.00" stroke-linecap="butt"/>
<text transform="translate(290.34 4390.40) scale(1 1.0400)" font-size="56.00" text-anchor="middle" fill="#000" xml:space="preserve">4</text>
<text transform="translate(446.62 4390.40) scale(1 1.0400)" font-size="56.00" text-anchor="middle" fill="#000" xml:space="preserve">6</text>
<text transform="translate(602.90 4390.40) scale(1 1.0400)" font-size="56.00" text-anchor="middle" fill="#000" xml:space="preserve">8</text>
<text transform="translate(759.18 4390.40) scale(1 1.0400)" font-size="56.00" text-anchor="middle" fill="#000" xml:space="preserve">10</text>
<text transform="translate(915.46 4390.40) scale(1 1.0400)" font-size="56.00" text-anchor="middle" fill="#000" xml:space="preserve">12</text>
<text transform="translate(1071.74 4390.40) scale(1 1.0400)" font-size="56.00" text-anchor="middle" fill="#000" xml:space="preserve">14</text>
<text transform="translate(1228.02 4390.40) scale(1 1.0400)" font-size="56.00" text-anchor="middle" fill="#000" xml:space="preserve">16</text>
<text transform="translate(1384.30 4390.40) scale(1 1.0400)" font-size="56.00" text-anchor="middle" fill="#000" xml:space="preserve">18</text>
<text transform="translate(1540.58 4390.40) scale(1 1.0400)" font-size="56.00" text-anchor="middle" fill="#000" xml:space="preserve">20</text>
<text transform="translate(1696.86 4390.40) scale(1 1.0400)" font-size="56.00" text-anchor="middle" fill="#000" xml:space="preserve">22</text>
<text transform="translate(1853.14 4390.40) scale(1 1.0400)" font-size="56.00" text-anchor="middle" fill="#000" xml:space="preserve">24</text>
<text transform="translate(2009.42 4390.40) scale(1 1.0400)" font-size="56.00" text-anchor="middle" fill="#000" xml:space="preserve">26</text>
<text transform="translate(1168.80 4496.00)" font-size="68.10" text-anchor="middle" fill="#000" xml:space="preserve">Retention time (min)</text>
<text transform="translate(82.20 778.80) rotate(-90)" font-size="67.70" text-anchor="middle" fill="#000" xml:space="preserve">Fluorescence intensity (a.u.)</text>
<text transform="translate(82.20 2199.10) rotate(-90)" font-size="67.70" text-anchor="middle" fill="#000" xml:space="preserve">Fluorescence intensity (a.u.)</text>
<text transform="translate(82.20 3631.00) rotate(-90)" font-size="67.70" text-anchor="middle" fill="#000" xml:space="preserve">Fluorescence intensity (a.u.)</text>
<rect x="229.90" y="84.50" width="708.10" height="81.10" fill="#fff" stroke="#222" stroke-width="2.80"/>
<text transform="translate(276.83 150.50)" font-size="63.95" text-anchor="start" fill="#000" xml:space="preserve">inner seed coat extract</text>
<rect x="241.30" y="1502.60" width="661.70" height="78.30" fill="#fff" stroke="#222" stroke-width="2.80"/>
<text transform="translate(291.94 1566.20)" font-size="63.50" text-anchor="start" fill="#000" xml:space="preserve"><tspan font-style="italic">n</tspan>-acyl-Ser standards</text>
<rect x="1319.60" y="2930.60" width="733.90" height="161.80" fill="#fff" stroke="#222" stroke-width="2.80"/>
<line x1="1381.50" y1="2977.00" x2="1522.80" y2="2977.00" stroke="#777" stroke-width="2.40" stroke-linecap="butt"/>
<line x1="1381.50" y1="3054.30" x2="1522.80" y2="3054.30" stroke="#c85a55" stroke-width="1.60" stroke-linecap="butt"/>
<text transform="translate(1540.45 2999.00)" font-size="63.80" text-anchor="start" fill="#000" xml:space="preserve">5 after hydrolysis</text>
<text transform="translate(1540.45 3077.20)" font-size="63.80" text-anchor="start" fill="#000" xml:space="preserve">9 after hydrolysis</text>
<text transform="translate(1168.00 1172.30) scale(1 1.0400)" font-size="67.70" text-anchor="middle" fill="#000" xml:space="preserve">5</text>
<text transform="translate(1863.40 1208.50) scale(1 1.0400)" font-size="67.70" text-anchor="middle" fill="#000" xml:space="preserve">9</text>
<text transform="translate(977.40 1074.11) rotate(-90) scale(1 1.0400)" font-size="54.80" text-anchor="start" fill="#000" xml:space="preserve"><tspan font-style="italic">n</tspan>-C22</text>
<text transform="translate(1544.30 1282.81) rotate(-90) scale(1 1.0400)" font-size="54.80" text-anchor="start" fill="#000" xml:space="preserve"><tspan font-style="italic">n</tspan>-C24</text>
<text transform="translate(1034.00 1716.51) rotate(-90) scale(1 1.0400)" font-size="54.80" text-anchor="start" fill="#000" xml:space="preserve"><tspan font-style="italic">n</tspan>-C22</text>
<text transform="translate(1298.80 1714.11) rotate(-90) scale(1 1.0400)" font-size="54.80" text-anchor="start" fill="#000" xml:space="preserve"><tspan font-style="italic">n</tspan>-C23</text>
<text transform="translate(1612.50 1706.11) rotate(-90) scale(1 1.0400)" font-size="54.80" text-anchor="start" fill="#000" xml:space="preserve"><tspan font-style="italic">n</tspan>-C24</text>
<text transform="translate(1948.70 2325.91) rotate(-90) scale(1 1.0400)" font-size="54.80" text-anchor="start" fill="#000" xml:space="preserve"><tspan font-style="italic">n</tspan>-C25</text>
<text transform="translate(990.60 3639.61) rotate(-90) scale(1 1.0400)" font-size="54.80" text-anchor="start" fill="#000" xml:space="preserve"><tspan font-style="italic">n</tspan>-C22</text>
<text transform="translate(1550.00 3762.41) rotate(-90) scale(1 1.0400)" font-size="54.80" text-anchor="start" fill="#000" xml:space="preserve"><tspan font-style="italic">n</tspan>-C24</text>
</svg>
</body>
</html>
